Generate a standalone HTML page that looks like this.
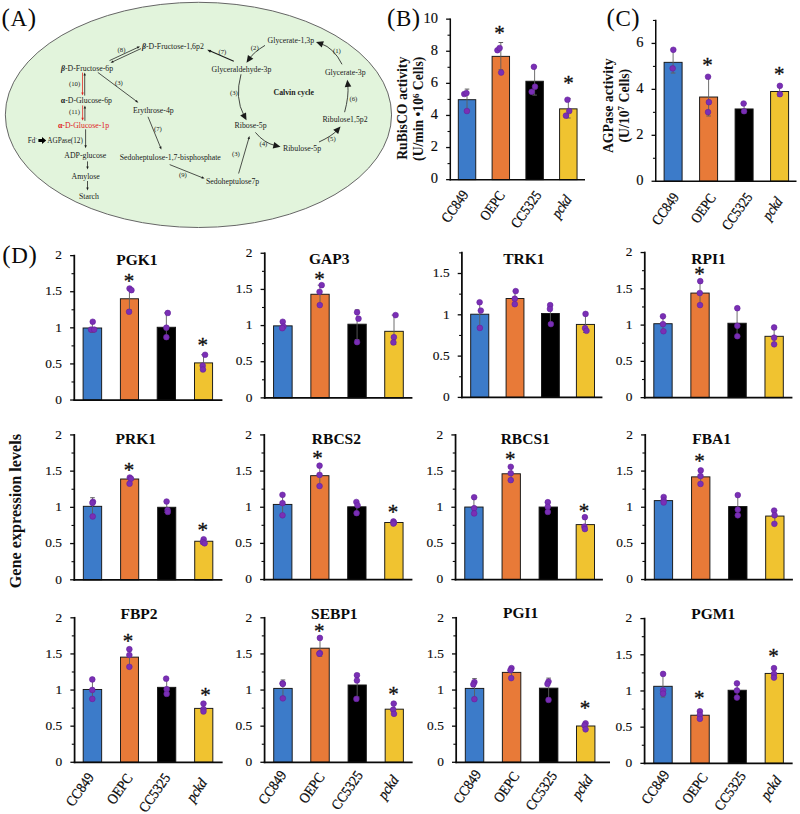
<!DOCTYPE html>
<html><head><meta charset="utf-8"><title>Figure</title>
<style>html,body{margin:0;padding:0;background:#fff;}svg{display:block;font-family:"Liberation Serif",serif;}</style>
</head><body>
<svg width="800" height="814" viewBox="0 0 800 814">
<rect x="0" y="0" width="800" height="814" fill="#ffffff"/>
<text x="1.6" y="26" fill="#0a0a0a"><tspan font-size="25">(</tspan><tspan font-size="23" dx="0.6">A</tspan><tspan font-size="25" dx="0.6">)</tspan></text>
<text x="387" y="25.5" fill="#0a0a0a"><tspan font-size="25">(</tspan><tspan font-size="23" dx="0.6">B</tspan><tspan font-size="25" dx="0.6">)</tspan></text>
<text x="606.5" y="25.5" fill="#0a0a0a"><tspan font-size="25">(</tspan><tspan font-size="23" dx="0.6">C</tspan><tspan font-size="25" dx="0.6">)</tspan></text>
<text x="2.3" y="263" fill="#0a0a0a"><tspan font-size="25">(</tspan><tspan font-size="23" dx="0.6">D</tspan><tspan font-size="25" dx="0.6">)</tspan></text>
<ellipse cx="198.45" cy="114.9" rx="193.1" ry="112.6" fill="#e2f4dc" stroke="#666" stroke-width="1"/>
<text x="61" y="70.6" font-size="7.8" text-anchor="start" fill="#1a1a1a" font-weight="normal"><tspan font-weight="bold" font-style="italic">β</tspan>-D-Fructose-6p</text>
<text x="142" y="48.5" font-size="7.8" text-anchor="start" fill="#1a1a1a" font-weight="normal"><tspan font-weight="bold" font-style="italic">β</tspan>-D-Fructose-1,6p2</text>
<text transform="translate(69 86.05) scale(0.9 0.95)" font-size="7.5" text-anchor="start" fill="#1a1a1a" font-weight="normal">(10)</text>
<text x="60.8" y="103" font-size="7.8" text-anchor="start" fill="#1a1a1a" font-weight="normal"><tspan font-weight="bold">α</tspan>-D-Glucose-6p</text>
<text transform="translate(69 114.25) scale(0.9 0.95)" font-size="7.5" text-anchor="start" fill="#1a1a1a" font-weight="normal">(11)</text>
<text x="58" y="127.5" font-size="7.8" text-anchor="start" fill="#e0201c" font-weight="normal"><tspan font-weight="bold">α</tspan>-D-Glucose-1p</text>
<text x="27.8" y="142.8" font-size="7.2" text-anchor="start" fill="#1a1a1a" font-weight="normal">Fd<tspan font-size="4.5" dy="-2.6">-</tspan></text>
<text x="47.3" y="142.8" font-size="7.2" text-anchor="start" fill="#1a1a1a" font-weight="normal">AGPase(12)</text>
<polygon points="38.4,138.9 42,138.9 42,137 46.2,140.5 42,144 42,142.1 38.4,142.1" fill="#000"/>
<text x="64.3" y="157.9" font-size="7.8" text-anchor="start" fill="#1a1a1a" font-weight="normal">ADP-glucose</text>
<text x="71.6" y="178.5" font-size="7.8" text-anchor="start" fill="#1a1a1a" font-weight="normal">Amylose</text>
<text x="79" y="199" font-size="7.8" text-anchor="start" fill="#1a1a1a" font-weight="normal">Starch</text>
<text transform="translate(117.6 52.25) scale(0.9 0.95)" font-size="7.5" text-anchor="start" fill="#1a1a1a" font-weight="normal">(8)</text>
<text transform="translate(115 84.65) scale(0.9 0.95)" font-size="7.5" text-anchor="start" fill="#1a1a1a" font-weight="normal">(3)</text>
<text x="133" y="112.5" font-size="7.8" text-anchor="start" fill="#1a1a1a" font-weight="normal">Erythrose-4p</text>
<text transform="translate(154 130.85) scale(0.9 0.95)" font-size="7.5" text-anchor="start" fill="#1a1a1a" font-weight="normal">(7)</text>
<text x="119.7" y="160" font-size="7.8" text-anchor="start" fill="#1a1a1a" font-weight="normal">Sedoheptulose-1,7-bisphosphate</text>
<text transform="translate(179 177.25) scale(0.9 0.95)" font-size="7.5" text-anchor="start" fill="#1a1a1a" font-weight="normal">(9)</text>
<line x1="82.5" y1="72.6" x2="82.5" y2="93.5" stroke="#e0201c" stroke-width="0.75"/>
<polygon points="82.5,95.6 81.3,92.6 83.7,92.6" fill="#e0201c"/>
<line x1="84.7" y1="95.6" x2="84.7" y2="74.7" stroke="#1a1a1a" stroke-width="0.75"/>
<polygon points="84.7,72.6 85.9,75.6 83.5,75.6" fill="#1a1a1a"/>
<line x1="82.6" y1="105.4" x2="82.6" y2="118.7" stroke="#e0201c" stroke-width="0.75"/>
<polygon points="82.6,120.8 81.4,117.8 83.8,117.8" fill="#e0201c"/>
<line x1="84.9" y1="120.8" x2="84.9" y2="107.5" stroke="#1a1a1a" stroke-width="0.75"/>
<polygon points="84.9,105.4 86.1,108.4 83.7,108.4" fill="#1a1a1a"/>
<line x1="85.6" y1="129.3" x2="85.6" y2="146.2" stroke="#1a1a1a" stroke-width="0.75"/>
<polygon points="85.6,148.3 84.4,145.3 86.8,145.3" fill="#1a1a1a"/>
<line x1="87.5" y1="161.4" x2="87.5" y2="167.5" stroke="#1a1a1a" stroke-width="0.75"/>
<polygon points="87.5,169.6 86.3,166.6 88.7,166.6" fill="#1a1a1a"/>
<line x1="87.5" y1="181" x2="87.5" y2="188.5" stroke="#1a1a1a" stroke-width="0.75"/>
<polygon points="87.5,190.6 86.3,187.6 88.7,187.6" fill="#1a1a1a"/>
<line x1="97.8" y1="72.4" x2="136.72" y2="101.44" stroke="#1a1a1a" stroke-width="0.75"/>
<polygon points="138.4,102.7 135.28,101.87 136.71,99.94" fill="#1a1a1a"/>
<line x1="148" y1="116.8" x2="160.6" y2="147.56" stroke="#1a1a1a" stroke-width="0.75"/>
<polygon points="161.4,149.5 159.15,147.18 161.37,146.27" fill="#1a1a1a"/>
<line x1="169.7" y1="164.6" x2="202.65" y2="177.82" stroke="#1a1a1a" stroke-width="0.75"/>
<polygon points="204.6,178.6 201.37,178.6 202.26,176.37" fill="#1a1a1a"/>
<line x1="109.5" y1="60.6" x2="138.1" y2="47.29" stroke="#1a1a1a" stroke-width="0.75"/>
<polygon points="140,46.4 137.79,48.75 136.77,46.58" fill="#1a1a1a"/>
<line x1="141" y1="48.6" x2="112.4" y2="61.91" stroke="#1a1a1a" stroke-width="0.75"/>
<polygon points="110.5,62.8 112.71,60.45 113.73,62.62" fill="#1a1a1a"/>
<text x="267.6" y="42.5" font-size="7.8" text-anchor="start" fill="#1a1a1a" font-weight="normal">Glycerate-1,3p</text>
<text transform="translate(250.8 50.25) scale(0.9 0.95)" font-size="7.5" text-anchor="start" fill="#1a1a1a" font-weight="normal">(2)</text>
<text transform="translate(218.4 53.65) scale(0.9 0.95)" font-size="7.5" text-anchor="start" fill="#1a1a1a" font-weight="normal">(7)</text>
<text x="211.6" y="71.5" font-size="7.8" text-anchor="start" fill="#1a1a1a" font-weight="normal">Glyceraldehyde-3p</text>
<text transform="translate(230 94.95) scale(0.9 0.95)" font-size="7.5" text-anchor="start" fill="#1a1a1a" font-weight="normal">(3)</text>
<text x="273.5" y="95.2" font-size="7.8" text-anchor="start" fill="#1a1a1a" font-weight="bold">Calvin cycle</text>
<text x="234.6" y="128.2" font-size="7.8" text-anchor="start" fill="#1a1a1a" font-weight="normal">Ribose-5p</text>
<text transform="translate(259.5 146.25) scale(0.9 0.95)" font-size="7.5" text-anchor="start" fill="#1a1a1a" font-weight="normal">(4)</text>
<text x="283" y="151.1" font-size="7.8" text-anchor="start" fill="#1a1a1a" font-weight="normal">Ribulose-5p</text>
<text transform="translate(327.8 141.25) scale(0.9 0.95)" font-size="7.5" text-anchor="start" fill="#1a1a1a" font-weight="normal">(5)</text>
<text x="322.4" y="121.5" font-size="7.8" text-anchor="start" fill="#1a1a1a" font-weight="normal">Ribulose1,5p2</text>
<text transform="translate(349.5 100.85) scale(0.9 0.95)" font-size="7.5" text-anchor="start" fill="#1a1a1a" font-weight="normal">(6)</text>
<text x="324.9" y="74.9" font-size="7.8" text-anchor="start" fill="#1a1a1a" font-weight="normal">Glycerate-3p</text>
<text transform="translate(333 53.05) scale(0.9 0.95)" font-size="7.5" text-anchor="start" fill="#1a1a1a" font-weight="normal">(1)</text>
<text transform="translate(232 155.75) scale(0.9 0.95)" font-size="7.5" text-anchor="start" fill="#1a1a1a" font-weight="normal">(3)</text>
<text x="206" y="184.1" font-size="7.8" text-anchor="start" fill="#1a1a1a" font-weight="normal">Sedoheptulose7p</text>
<path d="M342 64.3 Q334 48 320.78 43.59" fill="none" stroke="#1a1a1a" stroke-width="0.8"/>
<polygon points="316,42 323.88,41.13 321.78,47.42" fill="#1a1a1a"/>
<path d="M265 45.4 Q254 52 249.39 58.57" fill="none" stroke="#1a1a1a" stroke-width="0.8"/>
<polygon points="246.5,62.7 247.92,54.9 253.34,58.71" fill="#1a1a1a"/>
<line x1="233.8" y1="61.2" x2="209.64" y2="50.85" stroke="#1a1a1a" stroke-width="1.1"/>
<polygon points="207.2,49.8 211.29,49.9 210.09,52.69" fill="#1a1a1a"/>
<path d="M241 74.3 Q234.5 98 244.11 115.86" fill="none" stroke="#1a1a1a" stroke-width="0.8"/>
<polygon points="246.5,120.3 240.17,115.53 246,112.39" fill="#1a1a1a"/>
<path d="M255.4 132.4 Q264 143 275.59 145.67" fill="none" stroke="#1a1a1a" stroke-width="0.8"/>
<polygon points="280.5,146.8 272.74,148.41 274.23,141.96" fill="#1a1a1a"/>
<path d="M319 142 Q332 136 337.14 130.26" fill="none" stroke="#1a1a1a" stroke-width="0.8"/>
<polygon points="340.5,126.5 338.17,134.07 333.23,129.66" fill="#1a1a1a"/>
<path d="M344.6 112.2 Q349 96 347.82 84.71" fill="none" stroke="#1a1a1a" stroke-width="0.8"/>
<polygon points="347.3,79.7 351.34,86.52 344.75,87.2" fill="#1a1a1a"/>
<line x1="238.6" y1="173.5" x2="248.91" y2="138.02" stroke="#1a1a1a" stroke-width="0.75"/>
<polygon points="249.5,136 249.81,139.22 247.51,138.55" fill="#1a1a1a"/>
<rect x="458.3" y="99.7" width="17.45" height="79.95" fill="#3c7bc9" stroke="#151515" stroke-width="0.95"/>
<rect x="492.1" y="56.36" width="17.45" height="123.29" fill="#e87a38" stroke="#151515" stroke-width="0.95"/>
<rect x="525.9" y="81.24" width="17.45" height="98.41" fill="#000000" stroke="#151515" stroke-width="0.95"/>
<rect x="559.6" y="108.85" width="17.45" height="70.8" fill="#f0c330" stroke="#151515" stroke-width="0.95"/>
<line x1="467.02" y1="89.1" x2="467.02" y2="110.6" stroke="#5e5e5e" stroke-width="0.9"/>
<line x1="464.72" y1="89.1" x2="469.32" y2="89.1" stroke="#5e5e5e" stroke-width="1"/>
<line x1="464.72" y1="110.6" x2="469.32" y2="110.6" stroke="#5e5e5e" stroke-width="1"/>
<line x1="500.82" y1="42.5" x2="500.82" y2="69.7" stroke="#5e5e5e" stroke-width="0.9"/>
<line x1="498.52" y1="42.5" x2="503.12" y2="42.5" stroke="#5e5e5e" stroke-width="1"/>
<line x1="498.52" y1="69.7" x2="503.12" y2="69.7" stroke="#5e5e5e" stroke-width="1"/>
<line x1="534.62" y1="66.8" x2="534.62" y2="95.1" stroke="#5e5e5e" stroke-width="0.9"/>
<line x1="532.33" y1="66.8" x2="536.92" y2="66.8" stroke="#5e5e5e" stroke-width="1"/>
<line x1="532.33" y1="95.1" x2="536.92" y2="95.1" stroke="#5e5e5e" stroke-width="1"/>
<line x1="568.33" y1="98.4" x2="568.33" y2="118" stroke="#5e5e5e" stroke-width="0.9"/>
<line x1="566.03" y1="98.4" x2="570.62" y2="98.4" stroke="#5e5e5e" stroke-width="1"/>
<line x1="566.03" y1="118" x2="570.62" y2="118" stroke="#5e5e5e" stroke-width="1"/>
<circle cx="464.26" cy="94" r="2.85" fill="#7a2fb5" stroke="#64229c" stroke-width="0.6"/>
<circle cx="466.47" cy="93.11" r="2.85" fill="#7a2fb5" stroke="#64229c" stroke-width="0.6"/>
<circle cx="466.91" cy="111.02" r="2.85" fill="#7a2fb5" stroke="#64229c" stroke-width="0.6"/>
<circle cx="497.42" cy="50.23" r="2.85" fill="#7a2fb5" stroke="#64229c" stroke-width="0.6"/>
<circle cx="499.63" cy="48.02" r="2.85" fill="#7a2fb5" stroke="#64229c" stroke-width="0.6"/>
<circle cx="501.18" cy="72.56" r="2.85" fill="#7a2fb5" stroke="#64229c" stroke-width="0.6"/>
<circle cx="533.89" cy="66.81" r="2.85" fill="#7a2fb5" stroke="#64229c" stroke-width="0.6"/>
<circle cx="535" cy="86.7" r="2.85" fill="#7a2fb5" stroke="#64229c" stroke-width="0.6"/>
<circle cx="531.68" cy="91.79" r="2.85" fill="#7a2fb5" stroke="#64229c" stroke-width="0.6"/>
<circle cx="567.49" cy="99.74" r="2.85" fill="#7a2fb5" stroke="#64229c" stroke-width="0.6"/>
<circle cx="569.26" cy="111.02" r="2.85" fill="#7a2fb5" stroke="#64229c" stroke-width="0.6"/>
<circle cx="565.94" cy="115.66" r="2.85" fill="#7a2fb5" stroke="#64229c" stroke-width="0.6"/>
<line x1="450.3" y1="18.45" x2="450.3" y2="180.4" stroke="#0a0a0a" stroke-width="1.5"/>
<line x1="449.55" y1="179.65" x2="585" y2="179.65" stroke="#0a0a0a" stroke-width="1.5"/>
<line x1="446.1" y1="179.65" x2="450.3" y2="179.65" stroke="#0a0a0a" stroke-width="1.3"/>
<line x1="447.5" y1="163.6" x2="450.3" y2="163.6" stroke="#0a0a0a" stroke-width="1.1"/>
<line x1="446.1" y1="147.55" x2="450.3" y2="147.55" stroke="#0a0a0a" stroke-width="1.3"/>
<line x1="447.5" y1="131.5" x2="450.3" y2="131.5" stroke="#0a0a0a" stroke-width="1.1"/>
<line x1="446.1" y1="115.45" x2="450.3" y2="115.45" stroke="#0a0a0a" stroke-width="1.3"/>
<line x1="447.5" y1="99.4" x2="450.3" y2="99.4" stroke="#0a0a0a" stroke-width="1.1"/>
<line x1="446.1" y1="83.35" x2="450.3" y2="83.35" stroke="#0a0a0a" stroke-width="1.3"/>
<line x1="447.5" y1="67.3" x2="450.3" y2="67.3" stroke="#0a0a0a" stroke-width="1.1"/>
<line x1="446.1" y1="51.25" x2="450.3" y2="51.25" stroke="#0a0a0a" stroke-width="1.3"/>
<line x1="447.5" y1="35.2" x2="450.3" y2="35.2" stroke="#0a0a0a" stroke-width="1.1"/>
<line x1="446.1" y1="19.15" x2="450.3" y2="19.15" stroke="#0a0a0a" stroke-width="1.3"/>
<text x="438.1" y="183.2" font-size="14.5" text-anchor="end" font-weight="normal" font-style="normal" fill="#0a0a0a" stroke="#0a0a0a" stroke-width="0.15">0</text>
<text x="438.1" y="151.1" font-size="14.5" text-anchor="end" font-weight="normal" font-style="normal" fill="#0a0a0a" stroke="#0a0a0a" stroke-width="0.15">2</text>
<text x="438.1" y="119" font-size="14.5" text-anchor="end" font-weight="normal" font-style="normal" fill="#0a0a0a" stroke="#0a0a0a" stroke-width="0.15">4</text>
<text x="438.1" y="86.9" font-size="14.5" text-anchor="end" font-weight="normal" font-style="normal" fill="#0a0a0a" stroke="#0a0a0a" stroke-width="0.15">6</text>
<text x="438.1" y="54.8" font-size="14.5" text-anchor="end" font-weight="normal" font-style="normal" fill="#0a0a0a" stroke="#0a0a0a" stroke-width="0.15">8</text>
<text x="438.1" y="22.7" font-size="14.5" text-anchor="end" font-weight="normal" font-style="normal" fill="#0a0a0a" stroke="#0a0a0a" stroke-width="0.15">10</text>
<text x="499.4" y="39.64" font-size="21" text-anchor="middle" font-weight="normal" font-style="normal" fill="#0a0a0a" stroke="#0a0a0a" stroke-width="0.3">*</text>
<text x="568.6" y="89.94" font-size="21" text-anchor="middle" font-weight="normal" font-style="normal" fill="#0a0a0a" stroke="#0a0a0a" stroke-width="0.3">*</text>
<text transform="translate(469.02 194.5) rotate(-55) scale(0.86 1)" font-size="14.6" text-anchor="end" font-style="normal" fill="#0a0a0a" stroke="#0a0a0a" stroke-width="0.25">CC849</text>
<text transform="translate(505.52 195.45) rotate(-55) scale(0.86 1)" font-size="14.6" text-anchor="end" font-style="normal" fill="#0a0a0a" stroke="#0a0a0a" stroke-width="0.25">OEPC</text>
<text transform="translate(542.02 195) rotate(-55) scale(0.86 1)" font-size="14.6" text-anchor="end" font-style="normal" fill="#0a0a0a" stroke="#0a0a0a" stroke-width="0.25">CC5325</text>
<text transform="translate(572.23 199.5) rotate(-55) scale(0.86 1)" font-size="14.6" text-anchor="end" font-style="italic" fill="#0a0a0a" stroke="#0a0a0a" stroke-width="0.25">pckd</text>
<text transform="translate(407.2 108.3) rotate(-90)" font-size="13.7" font-weight="bold" text-anchor="middle" fill="#111">RuBisCO activity</text>
<text transform="translate(423.2 108.8) rotate(-90)" font-size="13.7" font-weight="bold" text-anchor="middle" fill="#111">(U/min •10<tspan font-size="8.8" dy="-4.6">6</tspan><tspan dy="4.6"> Cells)</tspan></text>
<rect x="664.1" y="62.34" width="18" height="118.91" fill="#3c7bc9" stroke="#151515" stroke-width="0.95"/>
<rect x="699.6" y="97.02" width="18" height="84.23" fill="#e87a38" stroke="#151515" stroke-width="0.95"/>
<rect x="735.1" y="108.96" width="18" height="72.29" fill="#000000" stroke="#151515" stroke-width="0.95"/>
<rect x="770.6" y="91.51" width="18" height="89.74" fill="#f0c330" stroke="#151515" stroke-width="0.95"/>
<line x1="673.1" y1="49.8" x2="673.1" y2="73" stroke="#5e5e5e" stroke-width="0.9"/>
<line x1="670.8" y1="49.8" x2="675.4" y2="49.8" stroke="#5e5e5e" stroke-width="1"/>
<line x1="670.8" y1="73" x2="675.4" y2="73" stroke="#5e5e5e" stroke-width="1"/>
<line x1="708.6" y1="76.8" x2="708.6" y2="116" stroke="#5e5e5e" stroke-width="0.9"/>
<line x1="706.3" y1="76.8" x2="710.9" y2="76.8" stroke="#5e5e5e" stroke-width="1"/>
<line x1="706.3" y1="116" x2="710.9" y2="116" stroke="#5e5e5e" stroke-width="1"/>
<line x1="744.1" y1="103.5" x2="744.1" y2="113" stroke="#5e5e5e" stroke-width="0.9"/>
<line x1="741.8" y1="103.5" x2="746.4" y2="103.5" stroke="#5e5e5e" stroke-width="1"/>
<line x1="741.8" y1="113" x2="746.4" y2="113" stroke="#5e5e5e" stroke-width="1"/>
<line x1="779.6" y1="86" x2="779.6" y2="96" stroke="#5e5e5e" stroke-width="0.9"/>
<line x1="777.3" y1="86" x2="781.9" y2="86" stroke="#5e5e5e" stroke-width="1"/>
<line x1="777.3" y1="96" x2="781.9" y2="96" stroke="#5e5e5e" stroke-width="1"/>
<circle cx="673.32" cy="49.79" r="2.85" fill="#7a2fb5" stroke="#64229c" stroke-width="0.6"/>
<circle cx="672.66" cy="68.36" r="2.85" fill="#7a2fb5" stroke="#64229c" stroke-width="0.6"/>
<circle cx="708.03" cy="76.76" r="2.85" fill="#7a2fb5" stroke="#64229c" stroke-width="0.6"/>
<circle cx="708.91" cy="102.18" r="2.85" fill="#7a2fb5" stroke="#64229c" stroke-width="0.6"/>
<circle cx="708.03" cy="112.12" r="2.85" fill="#7a2fb5" stroke="#64229c" stroke-width="0.6"/>
<circle cx="743.62" cy="103.5" r="2.85" fill="#7a2fb5" stroke="#64229c" stroke-width="0.6"/>
<circle cx="744.06" cy="111.24" r="2.85" fill="#7a2fb5" stroke="#64229c" stroke-width="0.6"/>
<circle cx="779.87" cy="85.82" r="2.85" fill="#7a2fb5" stroke="#64229c" stroke-width="0.6"/>
<circle cx="779.87" cy="94.22" r="2.85" fill="#7a2fb5" stroke="#64229c" stroke-width="0.6"/>
<line x1="655.75" y1="19.85" x2="655.75" y2="182" stroke="#0a0a0a" stroke-width="1.5"/>
<line x1="655" y1="181.25" x2="796.5" y2="181.25" stroke="#0a0a0a" stroke-width="1.5"/>
<line x1="651.55" y1="181.25" x2="655.75" y2="181.25" stroke="#0a0a0a" stroke-width="1.3"/>
<line x1="652.95" y1="158.28" x2="655.75" y2="158.28" stroke="#0a0a0a" stroke-width="1.1"/>
<line x1="651.55" y1="135.31" x2="655.75" y2="135.31" stroke="#0a0a0a" stroke-width="1.3"/>
<line x1="652.95" y1="112.34" x2="655.75" y2="112.34" stroke="#0a0a0a" stroke-width="1.1"/>
<line x1="651.55" y1="89.37" x2="655.75" y2="89.37" stroke="#0a0a0a" stroke-width="1.3"/>
<line x1="652.95" y1="66.4" x2="655.75" y2="66.4" stroke="#0a0a0a" stroke-width="1.1"/>
<line x1="651.55" y1="43.43" x2="655.75" y2="43.43" stroke="#0a0a0a" stroke-width="1.3"/>
<line x1="652.95" y1="20.46" x2="655.75" y2="20.46" stroke="#0a0a0a" stroke-width="1.1"/>
<text x="643.55" y="184.8" font-size="14.5" text-anchor="end" font-weight="normal" font-style="normal" fill="#0a0a0a" stroke="#0a0a0a" stroke-width="0.15">0</text>
<text x="643.55" y="138.86" font-size="14.5" text-anchor="end" font-weight="normal" font-style="normal" fill="#0a0a0a" stroke="#0a0a0a" stroke-width="0.15">2</text>
<text x="643.55" y="92.92" font-size="14.5" text-anchor="end" font-weight="normal" font-style="normal" fill="#0a0a0a" stroke="#0a0a0a" stroke-width="0.15">4</text>
<text x="643.55" y="46.98" font-size="14.5" text-anchor="end" font-weight="normal" font-style="normal" fill="#0a0a0a" stroke="#0a0a0a" stroke-width="0.15">6</text>
<text x="707.4" y="72.24" font-size="21" text-anchor="middle" font-weight="normal" font-style="normal" fill="#0a0a0a" stroke="#0a0a0a" stroke-width="0.3">*</text>
<text x="779.2" y="81.14" font-size="21" text-anchor="middle" font-weight="normal" font-style="normal" fill="#0a0a0a" stroke="#0a0a0a" stroke-width="0.3">*</text>
<text transform="translate(679.5 197) rotate(-55) scale(0.86 1)" font-size="14.6" text-anchor="end" font-style="normal" fill="#0a0a0a" stroke="#0a0a0a" stroke-width="0.25">CC849</text>
<text transform="translate(716.5 198) rotate(-55) scale(0.86 1)" font-size="14.6" text-anchor="end" font-style="normal" fill="#0a0a0a" stroke="#0a0a0a" stroke-width="0.25">OEPC</text>
<text transform="translate(753 197) rotate(-55) scale(0.86 1)" font-size="14.6" text-anchor="end" font-style="normal" fill="#0a0a0a" stroke="#0a0a0a" stroke-width="0.25">CC5325</text>
<text transform="translate(783.2 201.5) rotate(-55) scale(0.86 1)" font-size="14.6" text-anchor="end" font-style="italic" fill="#0a0a0a" stroke="#0a0a0a" stroke-width="0.25">pckd</text>
<text transform="translate(613 105.8) rotate(-90)" font-size="13.8" font-weight="bold" text-anchor="middle" fill="#111">AGPase activity</text>
<text transform="translate(629 105.7) rotate(-90)" font-size="13.8" font-weight="bold" text-anchor="middle" fill="#111">(U/10<tspan font-size="8.8" dy="-4.6">7</tspan><tspan dy="4.6"> Cells)</tspan></text>
<text transform="translate(21.1 511.1) rotate(-90)" font-size="16.2" font-weight="bold" text-anchor="middle" fill="#111">Gene expression levels</text>
<rect x="83.09" y="327.99" width="18.56" height="72.03" fill="#3c7bc9" stroke="#151515" stroke-width="0.95"/>
<rect x="120.39" y="298.77" width="18.09" height="101.25" fill="#e87a38" stroke="#151515" stroke-width="0.95"/>
<rect x="157.2" y="327.27" width="18.33" height="72.75" fill="#000000" stroke="#151515" stroke-width="0.95"/>
<rect x="194.49" y="362.9" width="18.09" height="37.12" fill="#f0c330" stroke="#151515" stroke-width="0.95"/>
<line x1="92.38" y1="321.75" x2="92.38" y2="332.44" stroke="#5e5e5e" stroke-width="0.9"/>
<line x1="90.08" y1="321.75" x2="94.68" y2="321.75" stroke="#5e5e5e" stroke-width="1"/>
<line x1="90.08" y1="332.44" x2="94.68" y2="332.44" stroke="#5e5e5e" stroke-width="1"/>
<line x1="129.43" y1="287.31" x2="129.43" y2="309.87" stroke="#5e5e5e" stroke-width="0.9"/>
<line x1="127.13" y1="287.31" x2="131.73" y2="287.31" stroke="#5e5e5e" stroke-width="1"/>
<line x1="127.13" y1="309.87" x2="131.73" y2="309.87" stroke="#5e5e5e" stroke-width="1"/>
<line x1="166.37" y1="312.96" x2="166.37" y2="338.37" stroke="#5e5e5e" stroke-width="0.9"/>
<line x1="164.07" y1="312.96" x2="168.67" y2="312.96" stroke="#5e5e5e" stroke-width="1"/>
<line x1="164.07" y1="338.37" x2="168.67" y2="338.37" stroke="#5e5e5e" stroke-width="1"/>
<line x1="203.54" y1="354.76" x2="203.54" y2="369.97" stroke="#5e5e5e" stroke-width="0.9"/>
<line x1="201.24" y1="354.76" x2="205.84" y2="354.76" stroke="#5e5e5e" stroke-width="1"/>
<line x1="201.24" y1="369.97" x2="205.84" y2="369.97" stroke="#5e5e5e" stroke-width="1"/>
<circle cx="92.73" cy="321.75" r="2.85" fill="#7a2fb5" stroke="#64229c" stroke-width="0.6"/>
<circle cx="91.07" cy="329.59" r="2.85" fill="#7a2fb5" stroke="#64229c" stroke-width="0.6"/>
<circle cx="94.16" cy="329.59" r="2.85" fill="#7a2fb5" stroke="#64229c" stroke-width="0.6"/>
<circle cx="129.55" cy="288.49" r="2.85" fill="#7a2fb5" stroke="#64229c" stroke-width="0.6"/>
<circle cx="131.45" cy="290.16" r="2.85" fill="#7a2fb5" stroke="#64229c" stroke-width="0.6"/>
<circle cx="129.07" cy="311.77" r="2.85" fill="#7a2fb5" stroke="#64229c" stroke-width="0.6"/>
<circle cx="167.79" cy="312.96" r="2.85" fill="#7a2fb5" stroke="#64229c" stroke-width="0.6"/>
<circle cx="166.37" cy="327.69" r="2.85" fill="#7a2fb5" stroke="#64229c" stroke-width="0.6"/>
<circle cx="166.37" cy="337.19" r="2.85" fill="#7a2fb5" stroke="#64229c" stroke-width="0.6"/>
<circle cx="205.08" cy="354.76" r="2.85" fill="#7a2fb5" stroke="#64229c" stroke-width="0.6"/>
<circle cx="202.71" cy="365.69" r="2.85" fill="#7a2fb5" stroke="#64229c" stroke-width="0.6"/>
<circle cx="202.95" cy="369.49" r="2.85" fill="#7a2fb5" stroke="#64229c" stroke-width="0.6"/>
<line x1="74.3" y1="254.76" x2="74.3" y2="400.89" stroke="#0a0a0a" stroke-width="1.75"/>
<line x1="73.43" y1="400.02" x2="222.42" y2="400.02" stroke="#0a0a0a" stroke-width="1.75"/>
<line x1="70.1" y1="400.02" x2="74.3" y2="400.02" stroke="#0a0a0a" stroke-width="1.3"/>
<line x1="71.5" y1="381.97" x2="74.3" y2="381.97" stroke="#0a0a0a" stroke-width="1.1"/>
<line x1="70.1" y1="363.92" x2="74.3" y2="363.92" stroke="#0a0a0a" stroke-width="1.3"/>
<line x1="71.5" y1="345.88" x2="74.3" y2="345.88" stroke="#0a0a0a" stroke-width="1.1"/>
<line x1="70.1" y1="327.83" x2="74.3" y2="327.83" stroke="#0a0a0a" stroke-width="1.3"/>
<line x1="71.5" y1="309.78" x2="74.3" y2="309.78" stroke="#0a0a0a" stroke-width="1.1"/>
<line x1="70.1" y1="291.73" x2="74.3" y2="291.73" stroke="#0a0a0a" stroke-width="1.3"/>
<line x1="71.5" y1="273.69" x2="74.3" y2="273.69" stroke="#0a0a0a" stroke-width="1.1"/>
<line x1="70.1" y1="255.64" x2="74.3" y2="255.64" stroke="#0a0a0a" stroke-width="1.3"/>
<text x="62" y="403.77" font-size="13.4" text-anchor="end" font-weight="normal" font-style="normal" fill="#0a0a0a" stroke="#0a0a0a" stroke-width="0.15">0</text>
<text x="62" y="367.68" font-size="13.4" text-anchor="end" font-weight="normal" font-style="normal" fill="#0a0a0a" stroke="#0a0a0a" stroke-width="0.15">0.5</text>
<text x="62" y="331.58" font-size="13.4" text-anchor="end" font-weight="normal" font-style="normal" fill="#0a0a0a" stroke="#0a0a0a" stroke-width="0.15">1</text>
<text x="62" y="295.49" font-size="13.4" text-anchor="end" font-weight="normal" font-style="normal" fill="#0a0a0a" stroke="#0a0a0a" stroke-width="0.15">1.5</text>
<text x="62" y="259.39" font-size="13.4" text-anchor="end" font-weight="normal" font-style="normal" fill="#0a0a0a" stroke="#0a0a0a" stroke-width="0.15">2</text>
<text x="136.91" y="265.19" font-size="15.5" text-anchor="middle" font-weight="bold" font-style="normal" fill="#0a0a0a">PGK1</text>
<text x="129.07" y="288.23" font-size="21" text-anchor="middle" font-weight="normal" font-style="normal" fill="#0a0a0a" stroke="#0a0a0a" stroke-width="0.3">*</text>
<text x="202.71" y="351.65" font-size="21" text-anchor="middle" font-weight="normal" font-style="normal" fill="#0a0a0a" stroke="#0a0a0a" stroke-width="0.3">*</text>
<rect x="273.57" y="325.85" width="18.56" height="72.03" fill="#3c7bc9" stroke="#151515" stroke-width="0.95"/>
<rect x="310.86" y="294.26" width="18.33" height="103.63" fill="#e87a38" stroke="#151515" stroke-width="0.95"/>
<rect x="347.91" y="324.19" width="18.33" height="73.7" fill="#000000" stroke="#151515" stroke-width="0.95"/>
<rect x="384.73" y="331.31" width="18.56" height="66.57" fill="#f0c330" stroke="#151515" stroke-width="0.95"/>
<line x1="282.85" y1="321.75" x2="282.85" y2="328.87" stroke="#5e5e5e" stroke-width="0.9"/>
<line x1="280.55" y1="321.75" x2="285.15" y2="321.75" stroke="#5e5e5e" stroke-width="1"/>
<line x1="280.55" y1="328.87" x2="285.15" y2="328.87" stroke="#5e5e5e" stroke-width="1"/>
<line x1="320.02" y1="285.17" x2="320.02" y2="303.93" stroke="#5e5e5e" stroke-width="0.9"/>
<line x1="317.72" y1="285.17" x2="322.32" y2="285.17" stroke="#5e5e5e" stroke-width="1"/>
<line x1="317.72" y1="303.93" x2="322.32" y2="303.93" stroke="#5e5e5e" stroke-width="1"/>
<line x1="357.08" y1="309.87" x2="357.08" y2="339.56" stroke="#5e5e5e" stroke-width="0.9"/>
<line x1="354.78" y1="309.87" x2="359.38" y2="309.87" stroke="#5e5e5e" stroke-width="1"/>
<line x1="354.78" y1="339.56" x2="359.38" y2="339.56" stroke="#5e5e5e" stroke-width="1"/>
<line x1="394.01" y1="315.1" x2="394.01" y2="344.31" stroke="#5e5e5e" stroke-width="0.9"/>
<line x1="391.71" y1="315.1" x2="396.31" y2="315.1" stroke="#5e5e5e" stroke-width="1"/>
<line x1="391.71" y1="344.31" x2="396.31" y2="344.31" stroke="#5e5e5e" stroke-width="1"/>
<circle cx="282.73" cy="321.75" r="2.85" fill="#7a2fb5" stroke="#64229c" stroke-width="0.6"/>
<circle cx="283.44" cy="326.5" r="2.85" fill="#7a2fb5" stroke="#64229c" stroke-width="0.6"/>
<circle cx="282.26" cy="328.16" r="2.85" fill="#7a2fb5" stroke="#64229c" stroke-width="0.6"/>
<circle cx="321.69" cy="285.17" r="2.85" fill="#7a2fb5" stroke="#64229c" stroke-width="0.6"/>
<circle cx="319.55" cy="291.82" r="2.85" fill="#7a2fb5" stroke="#64229c" stroke-width="0.6"/>
<circle cx="319.79" cy="305.12" r="2.85" fill="#7a2fb5" stroke="#64229c" stroke-width="0.6"/>
<circle cx="357.08" cy="312.25" r="2.85" fill="#7a2fb5" stroke="#64229c" stroke-width="0.6"/>
<circle cx="358.5" cy="318.66" r="2.85" fill="#7a2fb5" stroke="#64229c" stroke-width="0.6"/>
<circle cx="357.08" cy="342.18" r="2.85" fill="#7a2fb5" stroke="#64229c" stroke-width="0.6"/>
<circle cx="395.56" cy="315.1" r="2.85" fill="#7a2fb5" stroke="#64229c" stroke-width="0.6"/>
<circle cx="393.9" cy="337.19" r="2.85" fill="#7a2fb5" stroke="#64229c" stroke-width="0.6"/>
<circle cx="393.42" cy="342.41" r="2.85" fill="#7a2fb5" stroke="#64229c" stroke-width="0.6"/>
<line x1="264.78" y1="252.39" x2="264.78" y2="398.76" stroke="#0a0a0a" stroke-width="1.75"/>
<line x1="263.9" y1="397.88" x2="412.42" y2="397.88" stroke="#0a0a0a" stroke-width="1.75"/>
<line x1="260.58" y1="397.88" x2="264.78" y2="397.88" stroke="#0a0a0a" stroke-width="1.3"/>
<line x1="261.98" y1="379.8" x2="264.78" y2="379.8" stroke="#0a0a0a" stroke-width="1.1"/>
<line x1="260.58" y1="361.73" x2="264.78" y2="361.73" stroke="#0a0a0a" stroke-width="1.3"/>
<line x1="261.98" y1="343.65" x2="264.78" y2="343.65" stroke="#0a0a0a" stroke-width="1.1"/>
<line x1="260.58" y1="325.57" x2="264.78" y2="325.57" stroke="#0a0a0a" stroke-width="1.3"/>
<line x1="261.98" y1="307.5" x2="264.78" y2="307.5" stroke="#0a0a0a" stroke-width="1.1"/>
<line x1="260.58" y1="289.42" x2="264.78" y2="289.42" stroke="#0a0a0a" stroke-width="1.3"/>
<line x1="261.98" y1="271.34" x2="264.78" y2="271.34" stroke="#0a0a0a" stroke-width="1.1"/>
<line x1="260.58" y1="253.26" x2="264.78" y2="253.26" stroke="#0a0a0a" stroke-width="1.3"/>
<text x="252.48" y="401.63" font-size="13.4" text-anchor="end" font-weight="normal" font-style="normal" fill="#0a0a0a" stroke="#0a0a0a" stroke-width="0.15">0</text>
<text x="252.48" y="365.48" font-size="13.4" text-anchor="end" font-weight="normal" font-style="normal" fill="#0a0a0a" stroke="#0a0a0a" stroke-width="0.15">0.5</text>
<text x="252.48" y="329.33" font-size="13.4" text-anchor="end" font-weight="normal" font-style="normal" fill="#0a0a0a" stroke="#0a0a0a" stroke-width="0.15">1</text>
<text x="252.48" y="293.17" font-size="13.4" text-anchor="end" font-weight="normal" font-style="normal" fill="#0a0a0a" stroke="#0a0a0a" stroke-width="0.15">1.5</text>
<text x="252.48" y="257.02" font-size="13.4" text-anchor="end" font-weight="normal" font-style="normal" fill="#0a0a0a" stroke="#0a0a0a" stroke-width="0.15">2</text>
<text x="329.29" y="264" font-size="15.5" text-anchor="middle" font-weight="bold" font-style="normal" fill="#0a0a0a">GAP3</text>
<text x="319.55" y="285.86" font-size="21" text-anchor="middle" font-weight="normal" font-style="normal" fill="#0a0a0a" stroke="#0a0a0a" stroke-width="0.3">*</text>
<rect x="470.69" y="314.21" width="18.09" height="83.2" fill="#3c7bc9" stroke="#151515" stroke-width="0.95"/>
<rect x="506.09" y="298.53" width="17.85" height="98.87" fill="#e87a38" stroke="#151515" stroke-width="0.95"/>
<rect x="541.48" y="313.5" width="17.85" height="83.91" fill="#000000" stroke="#151515" stroke-width="0.95"/>
<rect x="576.39" y="324.42" width="18.09" height="72.98" fill="#f0c330" stroke="#151515" stroke-width="0.95"/>
<line x1="479.74" y1="302.27" x2="479.74" y2="327.69" stroke="#5e5e5e" stroke-width="0.9"/>
<line x1="477.44" y1="302.27" x2="482.04" y2="302.27" stroke="#5e5e5e" stroke-width="1"/>
<line x1="477.44" y1="327.69" x2="482.04" y2="327.69" stroke="#5e5e5e" stroke-width="1"/>
<line x1="515.01" y1="291.11" x2="515.01" y2="305.12" stroke="#5e5e5e" stroke-width="0.9"/>
<line x1="512.71" y1="291.11" x2="517.31" y2="291.11" stroke="#5e5e5e" stroke-width="1"/>
<line x1="512.71" y1="305.12" x2="517.31" y2="305.12" stroke="#5e5e5e" stroke-width="1"/>
<line x1="550.4" y1="305.12" x2="550.4" y2="322.94" stroke="#5e5e5e" stroke-width="0.9"/>
<line x1="548.1" y1="305.12" x2="552.7" y2="305.12" stroke="#5e5e5e" stroke-width="1"/>
<line x1="548.1" y1="322.94" x2="552.7" y2="322.94" stroke="#5e5e5e" stroke-width="1"/>
<line x1="585.44" y1="313.91" x2="585.44" y2="332.44" stroke="#5e5e5e" stroke-width="0.9"/>
<line x1="583.14" y1="313.91" x2="587.74" y2="313.91" stroke="#5e5e5e" stroke-width="1"/>
<line x1="583.14" y1="332.44" x2="587.74" y2="332.44" stroke="#5e5e5e" stroke-width="1"/>
<circle cx="479.62" cy="302.27" r="2.85" fill="#7a2fb5" stroke="#64229c" stroke-width="0.6"/>
<circle cx="480.81" cy="310.58" r="2.85" fill="#7a2fb5" stroke="#64229c" stroke-width="0.6"/>
<circle cx="479.86" cy="327.92" r="2.85" fill="#7a2fb5" stroke="#64229c" stroke-width="0.6"/>
<circle cx="515.72" cy="291.11" r="2.85" fill="#7a2fb5" stroke="#64229c" stroke-width="0.6"/>
<circle cx="514.77" cy="298.71" r="2.85" fill="#7a2fb5" stroke="#64229c" stroke-width="0.6"/>
<circle cx="514.77" cy="304.17" r="2.85" fill="#7a2fb5" stroke="#64229c" stroke-width="0.6"/>
<circle cx="550.17" cy="305.12" r="2.85" fill="#7a2fb5" stroke="#64229c" stroke-width="0.6"/>
<circle cx="549.93" cy="308.92" r="2.85" fill="#7a2fb5" stroke="#64229c" stroke-width="0.6"/>
<circle cx="550.88" cy="324.12" r="2.85" fill="#7a2fb5" stroke="#64229c" stroke-width="0.6"/>
<circle cx="585.56" cy="313.91" r="2.85" fill="#7a2fb5" stroke="#64229c" stroke-width="0.6"/>
<circle cx="585.08" cy="328.16" r="2.85" fill="#7a2fb5" stroke="#64229c" stroke-width="0.6"/>
<circle cx="586.51" cy="330.77" r="2.85" fill="#7a2fb5" stroke="#64229c" stroke-width="0.6"/>
<line x1="461.9" y1="251.68" x2="461.9" y2="398.28" stroke="#0a0a0a" stroke-width="1.75"/>
<line x1="461.03" y1="397.41" x2="602.42" y2="397.41" stroke="#0a0a0a" stroke-width="1.75"/>
<line x1="457.7" y1="397.41" x2="461.9" y2="397.41" stroke="#0a0a0a" stroke-width="1.3"/>
<line x1="459.1" y1="376.76" x2="461.9" y2="376.76" stroke="#0a0a0a" stroke-width="1.1"/>
<line x1="457.7" y1="356.11" x2="461.9" y2="356.11" stroke="#0a0a0a" stroke-width="1.3"/>
<line x1="459.1" y1="335.46" x2="461.9" y2="335.46" stroke="#0a0a0a" stroke-width="1.1"/>
<line x1="457.7" y1="314.81" x2="461.9" y2="314.81" stroke="#0a0a0a" stroke-width="1.3"/>
<line x1="459.1" y1="294.16" x2="461.9" y2="294.16" stroke="#0a0a0a" stroke-width="1.1"/>
<line x1="457.7" y1="273.51" x2="461.9" y2="273.51" stroke="#0a0a0a" stroke-width="1.3"/>
<line x1="459.1" y1="252.86" x2="461.9" y2="252.86" stroke="#0a0a0a" stroke-width="1.1"/>
<text x="449.6" y="401.16" font-size="13.4" text-anchor="end" font-weight="normal" font-style="normal" fill="#0a0a0a" stroke="#0a0a0a" stroke-width="0.15">0</text>
<text x="449.6" y="359.86" font-size="13.4" text-anchor="end" font-weight="normal" font-style="normal" fill="#0a0a0a" stroke="#0a0a0a" stroke-width="0.15">0.5</text>
<text x="449.6" y="318.56" font-size="13.4" text-anchor="end" font-weight="normal" font-style="normal" fill="#0a0a0a" stroke="#0a0a0a" stroke-width="0.15">1</text>
<text x="449.6" y="277.26" font-size="13.4" text-anchor="end" font-weight="normal" font-style="normal" fill="#0a0a0a" stroke="#0a0a0a" stroke-width="0.15">1.5</text>
<text x="523.8" y="264" font-size="15.5" text-anchor="middle" font-weight="bold" font-style="normal" fill="#0a0a0a">TRK1</text>
<rect x="653.81" y="323.71" width="18.33" height="73.93" fill="#3c7bc9" stroke="#151515" stroke-width="0.95"/>
<rect x="690.86" y="293.07" width="18.33" height="104.58" fill="#e87a38" stroke="#151515" stroke-width="0.95"/>
<rect x="727.91" y="323.24" width="18.33" height="74.41" fill="#000000" stroke="#151515" stroke-width="0.95"/>
<rect x="764.97" y="336.3" width="18.33" height="61.35" fill="#f0c330" stroke="#151515" stroke-width="0.95"/>
<line x1="662.97" y1="316.28" x2="662.97" y2="331.25" stroke="#5e5e5e" stroke-width="0.9"/>
<line x1="660.67" y1="316.28" x2="665.27" y2="316.28" stroke="#5e5e5e" stroke-width="1"/>
<line x1="660.67" y1="331.25" x2="665.27" y2="331.25" stroke="#5e5e5e" stroke-width="1"/>
<line x1="700.02" y1="281.13" x2="700.02" y2="305.12" stroke="#5e5e5e" stroke-width="0.9"/>
<line x1="697.72" y1="281.13" x2="702.32" y2="281.13" stroke="#5e5e5e" stroke-width="1"/>
<line x1="697.72" y1="305.12" x2="702.32" y2="305.12" stroke="#5e5e5e" stroke-width="1"/>
<line x1="737.08" y1="308.21" x2="737.08" y2="337.19" stroke="#5e5e5e" stroke-width="0.9"/>
<line x1="734.78" y1="308.21" x2="739.38" y2="308.21" stroke="#5e5e5e" stroke-width="1"/>
<line x1="734.78" y1="337.19" x2="739.38" y2="337.19" stroke="#5e5e5e" stroke-width="1"/>
<line x1="774.13" y1="327.45" x2="774.13" y2="344.31" stroke="#5e5e5e" stroke-width="0.9"/>
<line x1="771.83" y1="327.45" x2="776.43" y2="327.45" stroke="#5e5e5e" stroke-width="1"/>
<line x1="771.83" y1="344.31" x2="776.43" y2="344.31" stroke="#5e5e5e" stroke-width="1"/>
<circle cx="662.97" cy="316.28" r="2.85" fill="#7a2fb5" stroke="#64229c" stroke-width="0.6"/>
<circle cx="662.97" cy="324.12" r="2.85" fill="#7a2fb5" stroke="#64229c" stroke-width="0.6"/>
<circle cx="663.44" cy="331.25" r="2.85" fill="#7a2fb5" stroke="#64229c" stroke-width="0.6"/>
<circle cx="700.26" cy="281.13" r="2.85" fill="#7a2fb5" stroke="#64229c" stroke-width="0.6"/>
<circle cx="699.79" cy="293.01" r="2.85" fill="#7a2fb5" stroke="#64229c" stroke-width="0.6"/>
<circle cx="700.02" cy="305.12" r="2.85" fill="#7a2fb5" stroke="#64229c" stroke-width="0.6"/>
<circle cx="737.32" cy="308.21" r="2.85" fill="#7a2fb5" stroke="#64229c" stroke-width="0.6"/>
<circle cx="737.32" cy="325.79" r="2.85" fill="#7a2fb5" stroke="#64229c" stroke-width="0.6"/>
<circle cx="737.32" cy="336.24" r="2.85" fill="#7a2fb5" stroke="#64229c" stroke-width="0.6"/>
<circle cx="774.13" cy="327.45" r="2.85" fill="#7a2fb5" stroke="#64229c" stroke-width="0.6"/>
<circle cx="774.13" cy="337.66" r="2.85" fill="#7a2fb5" stroke="#64229c" stroke-width="0.6"/>
<circle cx="774.13" cy="344.31" r="2.85" fill="#7a2fb5" stroke="#64229c" stroke-width="0.6"/>
<line x1="644.78" y1="251.68" x2="644.78" y2="398.52" stroke="#0a0a0a" stroke-width="1.75"/>
<line x1="643.9" y1="397.64" x2="792.42" y2="397.64" stroke="#0a0a0a" stroke-width="1.75"/>
<line x1="640.58" y1="397.64" x2="644.78" y2="397.64" stroke="#0a0a0a" stroke-width="1.3"/>
<line x1="641.98" y1="379.51" x2="644.78" y2="379.51" stroke="#0a0a0a" stroke-width="1.1"/>
<line x1="640.58" y1="361.37" x2="644.78" y2="361.37" stroke="#0a0a0a" stroke-width="1.3"/>
<line x1="641.98" y1="343.23" x2="644.78" y2="343.23" stroke="#0a0a0a" stroke-width="1.1"/>
<line x1="640.58" y1="325.1" x2="644.78" y2="325.1" stroke="#0a0a0a" stroke-width="1.3"/>
<line x1="641.98" y1="306.96" x2="644.78" y2="306.96" stroke="#0a0a0a" stroke-width="1.1"/>
<line x1="640.58" y1="288.82" x2="644.78" y2="288.82" stroke="#0a0a0a" stroke-width="1.3"/>
<line x1="641.98" y1="270.69" x2="644.78" y2="270.69" stroke="#0a0a0a" stroke-width="1.1"/>
<line x1="640.58" y1="252.55" x2="644.78" y2="252.55" stroke="#0a0a0a" stroke-width="1.3"/>
<text x="632.48" y="401.4" font-size="13.4" text-anchor="end" font-weight="normal" font-style="normal" fill="#0a0a0a" stroke="#0a0a0a" stroke-width="0.15">0</text>
<text x="632.48" y="365.12" font-size="13.4" text-anchor="end" font-weight="normal" font-style="normal" fill="#0a0a0a" stroke="#0a0a0a" stroke-width="0.15">0.5</text>
<text x="632.48" y="328.85" font-size="13.4" text-anchor="end" font-weight="normal" font-style="normal" fill="#0a0a0a" stroke="#0a0a0a" stroke-width="0.15">1</text>
<text x="632.48" y="292.58" font-size="13.4" text-anchor="end" font-weight="normal" font-style="normal" fill="#0a0a0a" stroke="#0a0a0a" stroke-width="0.15">1.5</text>
<text x="632.48" y="256.3" font-size="13.4" text-anchor="end" font-weight="normal" font-style="normal" fill="#0a0a0a" stroke="#0a0a0a" stroke-width="0.15">2</text>
<text x="708.57" y="264" font-size="15.5" text-anchor="middle" font-weight="bold" font-style="normal" fill="#0a0a0a">RPI1</text>
<text x="699.55" y="281.11" font-size="21" text-anchor="middle" font-weight="normal" font-style="normal" fill="#0a0a0a" stroke="#0a0a0a" stroke-width="0.3">*</text>
<rect x="83.33" y="506.32" width="18.33" height="73.46" fill="#3c7bc9" stroke="#151515" stroke-width="0.95"/>
<rect x="120.62" y="479.01" width="18.09" height="100.78" fill="#e87a38" stroke="#151515" stroke-width="0.95"/>
<rect x="157.68" y="507.27" width="18.09" height="72.51" fill="#000000" stroke="#151515" stroke-width="0.95"/>
<rect x="194.73" y="541.24" width="18.09" height="38.54" fill="#f0c330" stroke="#151515" stroke-width="0.95"/>
<line x1="92.49" y1="497.71" x2="92.49" y2="516" stroke="#5e5e5e" stroke-width="0.9"/>
<line x1="90.19" y1="497.71" x2="94.79" y2="497.71" stroke="#5e5e5e" stroke-width="1"/>
<line x1="90.19" y1="516" x2="94.79" y2="516" stroke="#5e5e5e" stroke-width="1"/>
<line x1="129.67" y1="477.52" x2="129.67" y2="482.75" stroke="#5e5e5e" stroke-width="0.9"/>
<line x1="127.37" y1="477.52" x2="131.97" y2="477.52" stroke="#5e5e5e" stroke-width="1"/>
<line x1="127.37" y1="482.75" x2="131.97" y2="482.75" stroke="#5e5e5e" stroke-width="1"/>
<line x1="166.72" y1="501.51" x2="166.72" y2="512.44" stroke="#5e5e5e" stroke-width="0.9"/>
<line x1="164.42" y1="501.51" x2="169.02" y2="501.51" stroke="#5e5e5e" stroke-width="1"/>
<line x1="164.42" y1="512.44" x2="169.02" y2="512.44" stroke="#5e5e5e" stroke-width="1"/>
<line x1="203.78" y1="539.28" x2="203.78" y2="543.32" stroke="#5e5e5e" stroke-width="0.9"/>
<line x1="201.48" y1="539.28" x2="206.08" y2="539.28" stroke="#5e5e5e" stroke-width="1"/>
<line x1="201.48" y1="543.32" x2="206.08" y2="543.32" stroke="#5e5e5e" stroke-width="1"/>
<circle cx="92.97" cy="501.75" r="2.85" fill="#7a2fb5" stroke="#64229c" stroke-width="0.6"/>
<circle cx="92.49" cy="502.94" r="2.85" fill="#7a2fb5" stroke="#64229c" stroke-width="0.6"/>
<circle cx="92.73" cy="516.47" r="2.85" fill="#7a2fb5" stroke="#64229c" stroke-width="0.6"/>
<circle cx="129.79" cy="477.52" r="2.85" fill="#7a2fb5" stroke="#64229c" stroke-width="0.6"/>
<circle cx="130.97" cy="478.71" r="2.85" fill="#7a2fb5" stroke="#64229c" stroke-width="0.6"/>
<circle cx="129.55" cy="483.7" r="2.85" fill="#7a2fb5" stroke="#64229c" stroke-width="0.6"/>
<circle cx="166.6" cy="501.51" r="2.85" fill="#7a2fb5" stroke="#64229c" stroke-width="0.6"/>
<circle cx="167.55" cy="510.06" r="2.85" fill="#7a2fb5" stroke="#64229c" stroke-width="0.6"/>
<circle cx="167.79" cy="511.96" r="2.85" fill="#7a2fb5" stroke="#64229c" stroke-width="0.6"/>
<circle cx="203.66" cy="539.28" r="2.85" fill="#7a2fb5" stroke="#64229c" stroke-width="0.6"/>
<circle cx="202.95" cy="542.13" r="2.85" fill="#7a2fb5" stroke="#64229c" stroke-width="0.6"/>
<circle cx="204.61" cy="543.32" r="2.85" fill="#7a2fb5" stroke="#64229c" stroke-width="0.6"/>
<line x1="74.3" y1="434.05" x2="74.3" y2="580.66" stroke="#0a0a0a" stroke-width="1.75"/>
<line x1="73.43" y1="579.78" x2="222.42" y2="579.78" stroke="#0a0a0a" stroke-width="1.75"/>
<line x1="70.1" y1="579.78" x2="74.3" y2="579.78" stroke="#0a0a0a" stroke-width="1.3"/>
<line x1="71.5" y1="561.68" x2="74.3" y2="561.68" stroke="#0a0a0a" stroke-width="1.1"/>
<line x1="70.1" y1="543.57" x2="74.3" y2="543.57" stroke="#0a0a0a" stroke-width="1.3"/>
<line x1="71.5" y1="525.46" x2="74.3" y2="525.46" stroke="#0a0a0a" stroke-width="1.1"/>
<line x1="70.1" y1="507.35" x2="74.3" y2="507.35" stroke="#0a0a0a" stroke-width="1.3"/>
<line x1="71.5" y1="489.25" x2="74.3" y2="489.25" stroke="#0a0a0a" stroke-width="1.1"/>
<line x1="70.1" y1="471.14" x2="74.3" y2="471.14" stroke="#0a0a0a" stroke-width="1.3"/>
<line x1="71.5" y1="453.03" x2="74.3" y2="453.03" stroke="#0a0a0a" stroke-width="1.1"/>
<line x1="70.1" y1="434.93" x2="74.3" y2="434.93" stroke="#0a0a0a" stroke-width="1.3"/>
<text x="62" y="583.53" font-size="13.4" text-anchor="end" font-weight="normal" font-style="normal" fill="#0a0a0a" stroke="#0a0a0a" stroke-width="0.15">0</text>
<text x="62" y="547.32" font-size="13.4" text-anchor="end" font-weight="normal" font-style="normal" fill="#0a0a0a" stroke="#0a0a0a" stroke-width="0.15">0.5</text>
<text x="62" y="511.11" font-size="13.4" text-anchor="end" font-weight="normal" font-style="normal" fill="#0a0a0a" stroke="#0a0a0a" stroke-width="0.15">1</text>
<text x="62" y="474.89" font-size="13.4" text-anchor="end" font-weight="normal" font-style="normal" fill="#0a0a0a" stroke="#0a0a0a" stroke-width="0.15">1.5</text>
<text x="62" y="438.68" font-size="13.4" text-anchor="end" font-weight="normal" font-style="normal" fill="#0a0a0a" stroke="#0a0a0a" stroke-width="0.15">2</text>
<text x="135.72" y="443.53" font-size="15.5" text-anchor="middle" font-weight="bold" font-style="normal" fill="#0a0a0a">PRK1</text>
<text x="129.07" y="476.55" font-size="21" text-anchor="middle" font-weight="normal" font-style="normal" fill="#0a0a0a" stroke="#0a0a0a" stroke-width="0.3">*</text>
<text x="202.71" y="537.12" font-size="21" text-anchor="middle" font-weight="normal" font-style="normal" fill="#0a0a0a" stroke="#0a0a0a" stroke-width="0.3">*</text>
<rect x="273.33" y="504.42" width="18.56" height="75.12" fill="#3c7bc9" stroke="#151515" stroke-width="0.95"/>
<rect x="310.62" y="475.68" width="18.33" height="103.86" fill="#e87a38" stroke="#151515" stroke-width="0.95"/>
<rect x="347.68" y="506.8" width="18.33" height="72.75" fill="#000000" stroke="#151515" stroke-width="0.95"/>
<rect x="384.73" y="522.48" width="18.33" height="57.07" fill="#f0c330" stroke="#151515" stroke-width="0.95"/>
<line x1="282.61" y1="494.86" x2="282.61" y2="514.81" stroke="#5e5e5e" stroke-width="0.9"/>
<line x1="280.31" y1="494.86" x2="284.91" y2="494.86" stroke="#5e5e5e" stroke-width="1"/>
<line x1="280.31" y1="514.81" x2="284.91" y2="514.81" stroke="#5e5e5e" stroke-width="1"/>
<line x1="319.79" y1="465.64" x2="319.79" y2="486.31" stroke="#5e5e5e" stroke-width="0.9"/>
<line x1="317.49" y1="465.64" x2="322.09" y2="465.64" stroke="#5e5e5e" stroke-width="1"/>
<line x1="317.49" y1="486.31" x2="322.09" y2="486.31" stroke="#5e5e5e" stroke-width="1"/>
<line x1="356.84" y1="501.99" x2="356.84" y2="512.44" stroke="#5e5e5e" stroke-width="0.9"/>
<line x1="354.54" y1="501.99" x2="359.14" y2="501.99" stroke="#5e5e5e" stroke-width="1"/>
<line x1="354.54" y1="512.44" x2="359.14" y2="512.44" stroke="#5e5e5e" stroke-width="1"/>
<line x1="393.9" y1="520.75" x2="393.9" y2="523.84" stroke="#5e5e5e" stroke-width="0.9"/>
<line x1="391.6" y1="520.75" x2="396.2" y2="520.75" stroke="#5e5e5e" stroke-width="1"/>
<line x1="391.6" y1="523.84" x2="396.2" y2="523.84" stroke="#5e5e5e" stroke-width="1"/>
<circle cx="282.49" cy="494.86" r="2.85" fill="#7a2fb5" stroke="#64229c" stroke-width="0.6"/>
<circle cx="282.49" cy="503.17" r="2.85" fill="#7a2fb5" stroke="#64229c" stroke-width="0.6"/>
<circle cx="282.49" cy="515.29" r="2.85" fill="#7a2fb5" stroke="#64229c" stroke-width="0.6"/>
<circle cx="319.55" cy="465.64" r="2.85" fill="#7a2fb5" stroke="#64229c" stroke-width="0.6"/>
<circle cx="319.55" cy="474.91" r="2.85" fill="#7a2fb5" stroke="#64229c" stroke-width="0.6"/>
<circle cx="319.55" cy="486.07" r="2.85" fill="#7a2fb5" stroke="#64229c" stroke-width="0.6"/>
<circle cx="356.37" cy="501.99" r="2.85" fill="#7a2fb5" stroke="#64229c" stroke-width="0.6"/>
<circle cx="357.55" cy="505.31" r="2.85" fill="#7a2fb5" stroke="#64229c" stroke-width="0.6"/>
<circle cx="356.6" cy="513.15" r="2.85" fill="#7a2fb5" stroke="#64229c" stroke-width="0.6"/>
<circle cx="393.42" cy="521.46" r="2.85" fill="#7a2fb5" stroke="#64229c" stroke-width="0.6"/>
<circle cx="393.9" cy="522.65" r="2.85" fill="#7a2fb5" stroke="#64229c" stroke-width="0.6"/>
<circle cx="393.42" cy="523.6" r="2.85" fill="#7a2fb5" stroke="#64229c" stroke-width="0.6"/>
<line x1="264.3" y1="434.05" x2="264.3" y2="580.42" stroke="#0a0a0a" stroke-width="1.75"/>
<line x1="263.43" y1="579.54" x2="412.42" y2="579.54" stroke="#0a0a0a" stroke-width="1.75"/>
<line x1="260.1" y1="579.54" x2="264.3" y2="579.54" stroke="#0a0a0a" stroke-width="1.3"/>
<line x1="261.5" y1="561.47" x2="264.3" y2="561.47" stroke="#0a0a0a" stroke-width="1.1"/>
<line x1="260.1" y1="543.39" x2="264.3" y2="543.39" stroke="#0a0a0a" stroke-width="1.3"/>
<line x1="261.5" y1="525.31" x2="264.3" y2="525.31" stroke="#0a0a0a" stroke-width="1.1"/>
<line x1="260.1" y1="507.24" x2="264.3" y2="507.24" stroke="#0a0a0a" stroke-width="1.3"/>
<line x1="261.5" y1="489.16" x2="264.3" y2="489.16" stroke="#0a0a0a" stroke-width="1.1"/>
<line x1="260.1" y1="471.08" x2="264.3" y2="471.08" stroke="#0a0a0a" stroke-width="1.3"/>
<line x1="261.5" y1="453" x2="264.3" y2="453" stroke="#0a0a0a" stroke-width="1.1"/>
<line x1="260.1" y1="434.93" x2="264.3" y2="434.93" stroke="#0a0a0a" stroke-width="1.3"/>
<text x="252" y="583.3" font-size="13.4" text-anchor="end" font-weight="normal" font-style="normal" fill="#0a0a0a" stroke="#0a0a0a" stroke-width="0.15">0</text>
<text x="252" y="547.14" font-size="13.4" text-anchor="end" font-weight="normal" font-style="normal" fill="#0a0a0a" stroke="#0a0a0a" stroke-width="0.15">0.5</text>
<text x="252" y="510.99" font-size="13.4" text-anchor="end" font-weight="normal" font-style="normal" fill="#0a0a0a" stroke="#0a0a0a" stroke-width="0.15">1</text>
<text x="252" y="474.83" font-size="13.4" text-anchor="end" font-weight="normal" font-style="normal" fill="#0a0a0a" stroke="#0a0a0a" stroke-width="0.15">1.5</text>
<text x="252" y="438.68" font-size="13.4" text-anchor="end" font-weight="normal" font-style="normal" fill="#0a0a0a" stroke="#0a0a0a" stroke-width="0.15">2</text>
<text x="336.41" y="443.53" font-size="15.5" text-anchor="middle" font-weight="bold" font-style="normal" fill="#0a0a0a">RBCS2</text>
<text x="317.41" y="464.67" font-size="21" text-anchor="middle" font-weight="normal" font-style="normal" fill="#0a0a0a" stroke="#0a0a0a" stroke-width="0.3">*</text>
<text x="392.95" y="518.59" font-size="21" text-anchor="middle" font-weight="normal" font-style="normal" fill="#0a0a0a" stroke="#0a0a0a" stroke-width="0.3">*</text>
<rect x="464.76" y="507.04" width="18.33" height="72.51" fill="#3c7bc9" stroke="#151515" stroke-width="0.95"/>
<rect x="502.05" y="473.78" width="18.33" height="105.76" fill="#e87a38" stroke="#151515" stroke-width="0.95"/>
<rect x="539.1" y="507.04" width="18.33" height="72.51" fill="#000000" stroke="#151515" stroke-width="0.95"/>
<rect x="576.16" y="524.61" width="18.33" height="54.93" fill="#f0c330" stroke="#151515" stroke-width="0.95"/>
<line x1="473.92" y1="497.23" x2="473.92" y2="514.81" stroke="#5e5e5e" stroke-width="0.9"/>
<line x1="471.62" y1="497.23" x2="476.22" y2="497.23" stroke="#5e5e5e" stroke-width="1"/>
<line x1="471.62" y1="514.81" x2="476.22" y2="514.81" stroke="#5e5e5e" stroke-width="1"/>
<line x1="511.21" y1="466.83" x2="511.21" y2="480.37" stroke="#5e5e5e" stroke-width="0.9"/>
<line x1="508.91" y1="466.83" x2="513.51" y2="466.83" stroke="#5e5e5e" stroke-width="1"/>
<line x1="508.91" y1="480.37" x2="513.51" y2="480.37" stroke="#5e5e5e" stroke-width="1"/>
<line x1="548.27" y1="502.22" x2="548.27" y2="511.96" stroke="#5e5e5e" stroke-width="0.9"/>
<line x1="545.97" y1="502.22" x2="550.57" y2="502.22" stroke="#5e5e5e" stroke-width="1"/>
<line x1="545.97" y1="511.96" x2="550.57" y2="511.96" stroke="#5e5e5e" stroke-width="1"/>
<line x1="585.32" y1="517.19" x2="585.32" y2="530.25" stroke="#5e5e5e" stroke-width="0.9"/>
<line x1="583.02" y1="517.19" x2="587.62" y2="517.19" stroke="#5e5e5e" stroke-width="1"/>
<line x1="583.02" y1="530.25" x2="587.62" y2="530.25" stroke="#5e5e5e" stroke-width="1"/>
<circle cx="474.16" cy="497.23" r="2.85" fill="#7a2fb5" stroke="#64229c" stroke-width="0.6"/>
<circle cx="474.16" cy="508.16" r="2.85" fill="#7a2fb5" stroke="#64229c" stroke-width="0.6"/>
<circle cx="474.16" cy="513.39" r="2.85" fill="#7a2fb5" stroke="#64229c" stroke-width="0.6"/>
<circle cx="510.74" cy="466.83" r="2.85" fill="#7a2fb5" stroke="#64229c" stroke-width="0.6"/>
<circle cx="510.74" cy="473.24" r="2.85" fill="#7a2fb5" stroke="#64229c" stroke-width="0.6"/>
<circle cx="510.74" cy="480.13" r="2.85" fill="#7a2fb5" stroke="#64229c" stroke-width="0.6"/>
<circle cx="547.79" cy="502.22" r="2.85" fill="#7a2fb5" stroke="#64229c" stroke-width="0.6"/>
<circle cx="547.79" cy="506.74" r="2.85" fill="#7a2fb5" stroke="#64229c" stroke-width="0.6"/>
<circle cx="547.79" cy="511.96" r="2.85" fill="#7a2fb5" stroke="#64229c" stroke-width="0.6"/>
<circle cx="584.85" cy="517.19" r="2.85" fill="#7a2fb5" stroke="#64229c" stroke-width="0.6"/>
<circle cx="584.37" cy="526.69" r="2.85" fill="#7a2fb5" stroke="#64229c" stroke-width="0.6"/>
<circle cx="584.85" cy="529.06" r="2.85" fill="#7a2fb5" stroke="#64229c" stroke-width="0.6"/>
<line x1="455.55" y1="434.05" x2="455.55" y2="580.42" stroke="#0a0a0a" stroke-width="1.75"/>
<line x1="454.68" y1="579.54" x2="602.9" y2="579.54" stroke="#0a0a0a" stroke-width="1.75"/>
<line x1="451.35" y1="579.54" x2="455.55" y2="579.54" stroke="#0a0a0a" stroke-width="1.3"/>
<line x1="452.75" y1="561.47" x2="455.55" y2="561.47" stroke="#0a0a0a" stroke-width="1.1"/>
<line x1="451.35" y1="543.39" x2="455.55" y2="543.39" stroke="#0a0a0a" stroke-width="1.3"/>
<line x1="452.75" y1="525.31" x2="455.55" y2="525.31" stroke="#0a0a0a" stroke-width="1.1"/>
<line x1="451.35" y1="507.24" x2="455.55" y2="507.24" stroke="#0a0a0a" stroke-width="1.3"/>
<line x1="452.75" y1="489.16" x2="455.55" y2="489.16" stroke="#0a0a0a" stroke-width="1.1"/>
<line x1="451.35" y1="471.08" x2="455.55" y2="471.08" stroke="#0a0a0a" stroke-width="1.3"/>
<line x1="452.75" y1="453" x2="455.55" y2="453" stroke="#0a0a0a" stroke-width="1.1"/>
<line x1="451.35" y1="434.93" x2="455.55" y2="434.93" stroke="#0a0a0a" stroke-width="1.3"/>
<text x="443.25" y="583.3" font-size="13.4" text-anchor="end" font-weight="normal" font-style="normal" fill="#0a0a0a" stroke="#0a0a0a" stroke-width="0.15">0</text>
<text x="443.25" y="547.14" font-size="13.4" text-anchor="end" font-weight="normal" font-style="normal" fill="#0a0a0a" stroke="#0a0a0a" stroke-width="0.15">0.5</text>
<text x="443.25" y="510.99" font-size="13.4" text-anchor="end" font-weight="normal" font-style="normal" fill="#0a0a0a" stroke="#0a0a0a" stroke-width="0.15">1</text>
<text x="443.25" y="474.83" font-size="13.4" text-anchor="end" font-weight="normal" font-style="normal" fill="#0a0a0a" stroke="#0a0a0a" stroke-width="0.15">1.5</text>
<text x="443.25" y="438.68" font-size="13.4" text-anchor="end" font-weight="normal" font-style="normal" fill="#0a0a0a" stroke="#0a0a0a" stroke-width="0.15">2</text>
<text x="525.23" y="443.53" font-size="15.5" text-anchor="middle" font-weight="bold" font-style="normal" fill="#0a0a0a">RBCS1</text>
<text x="510.26" y="465.86" font-size="21" text-anchor="middle" font-weight="normal" font-style="normal" fill="#0a0a0a" stroke="#0a0a0a" stroke-width="0.3">*</text>
<text x="583.9" y="518.11" font-size="21" text-anchor="middle" font-weight="normal" font-style="normal" fill="#0a0a0a" stroke="#0a0a0a" stroke-width="0.3">*</text>
<rect x="654.28" y="500.62" width="18.33" height="78.92" fill="#3c7bc9" stroke="#151515" stroke-width="0.95"/>
<rect x="691.57" y="476.87" width="18.33" height="102.68" fill="#e87a38" stroke="#151515" stroke-width="0.95"/>
<rect x="728.63" y="506.56" width="18.33" height="72.98" fill="#000000" stroke="#151515" stroke-width="0.95"/>
<rect x="765.68" y="516.06" width="18.33" height="63.48" fill="#f0c330" stroke="#151515" stroke-width="0.95"/>
<line x1="663.44" y1="497" x2="663.44" y2="502.94" stroke="#5e5e5e" stroke-width="0.9"/>
<line x1="661.14" y1="497" x2="665.74" y2="497" stroke="#5e5e5e" stroke-width="1"/>
<line x1="661.14" y1="502.94" x2="665.74" y2="502.94" stroke="#5e5e5e" stroke-width="1"/>
<line x1="700.74" y1="470.39" x2="700.74" y2="483.46" stroke="#5e5e5e" stroke-width="0.9"/>
<line x1="698.44" y1="470.39" x2="703.04" y2="470.39" stroke="#5e5e5e" stroke-width="1"/>
<line x1="698.44" y1="483.46" x2="703.04" y2="483.46" stroke="#5e5e5e" stroke-width="1"/>
<line x1="737.79" y1="495.1" x2="737.79" y2="516" stroke="#5e5e5e" stroke-width="0.9"/>
<line x1="735.49" y1="495.1" x2="740.09" y2="495.1" stroke="#5e5e5e" stroke-width="1"/>
<line x1="735.49" y1="516" x2="740.09" y2="516" stroke="#5e5e5e" stroke-width="1"/>
<line x1="774.85" y1="510.54" x2="774.85" y2="523.13" stroke="#5e5e5e" stroke-width="0.9"/>
<line x1="772.55" y1="510.54" x2="777.15" y2="510.54" stroke="#5e5e5e" stroke-width="1"/>
<line x1="772.55" y1="523.13" x2="777.15" y2="523.13" stroke="#5e5e5e" stroke-width="1"/>
<circle cx="663.68" cy="497" r="2.85" fill="#7a2fb5" stroke="#64229c" stroke-width="0.6"/>
<circle cx="663.68" cy="500.56" r="2.85" fill="#7a2fb5" stroke="#64229c" stroke-width="0.6"/>
<circle cx="663.68" cy="502.46" r="2.85" fill="#7a2fb5" stroke="#64229c" stroke-width="0.6"/>
<circle cx="700.74" cy="470.39" r="2.85" fill="#7a2fb5" stroke="#64229c" stroke-width="0.6"/>
<circle cx="700.5" cy="476.09" r="2.85" fill="#7a2fb5" stroke="#64229c" stroke-width="0.6"/>
<circle cx="700.5" cy="483.93" r="2.85" fill="#7a2fb5" stroke="#64229c" stroke-width="0.6"/>
<circle cx="737.79" cy="495.1" r="2.85" fill="#7a2fb5" stroke="#64229c" stroke-width="0.6"/>
<circle cx="737.79" cy="509.59" r="2.85" fill="#7a2fb5" stroke="#64229c" stroke-width="0.6"/>
<circle cx="737.79" cy="515.29" r="2.85" fill="#7a2fb5" stroke="#64229c" stroke-width="0.6"/>
<circle cx="774.13" cy="510.54" r="2.85" fill="#7a2fb5" stroke="#64229c" stroke-width="0.6"/>
<circle cx="774.61" cy="515.29" r="2.85" fill="#7a2fb5" stroke="#64229c" stroke-width="0.6"/>
<circle cx="774.37" cy="523.84" r="2.85" fill="#7a2fb5" stroke="#64229c" stroke-width="0.6"/>
<line x1="645.25" y1="434.05" x2="645.25" y2="580.42" stroke="#0a0a0a" stroke-width="1.75"/>
<line x1="644.38" y1="579.54" x2="792.9" y2="579.54" stroke="#0a0a0a" stroke-width="1.75"/>
<line x1="641.05" y1="579.54" x2="645.25" y2="579.54" stroke="#0a0a0a" stroke-width="1.3"/>
<line x1="642.45" y1="561.47" x2="645.25" y2="561.47" stroke="#0a0a0a" stroke-width="1.1"/>
<line x1="641.05" y1="543.39" x2="645.25" y2="543.39" stroke="#0a0a0a" stroke-width="1.3"/>
<line x1="642.45" y1="525.31" x2="645.25" y2="525.31" stroke="#0a0a0a" stroke-width="1.1"/>
<line x1="641.05" y1="507.24" x2="645.25" y2="507.24" stroke="#0a0a0a" stroke-width="1.3"/>
<line x1="642.45" y1="489.16" x2="645.25" y2="489.16" stroke="#0a0a0a" stroke-width="1.1"/>
<line x1="641.05" y1="471.08" x2="645.25" y2="471.08" stroke="#0a0a0a" stroke-width="1.3"/>
<line x1="642.45" y1="453" x2="645.25" y2="453" stroke="#0a0a0a" stroke-width="1.1"/>
<line x1="641.05" y1="434.93" x2="645.25" y2="434.93" stroke="#0a0a0a" stroke-width="1.3"/>
<text x="632.95" y="583.3" font-size="13.4" text-anchor="end" font-weight="normal" font-style="normal" fill="#0a0a0a" stroke="#0a0a0a" stroke-width="0.15">0</text>
<text x="632.95" y="547.14" font-size="13.4" text-anchor="end" font-weight="normal" font-style="normal" fill="#0a0a0a" stroke="#0a0a0a" stroke-width="0.15">0.5</text>
<text x="632.95" y="510.99" font-size="13.4" text-anchor="end" font-weight="normal" font-style="normal" fill="#0a0a0a" stroke="#0a0a0a" stroke-width="0.15">1</text>
<text x="632.95" y="474.83" font-size="13.4" text-anchor="end" font-weight="normal" font-style="normal" fill="#0a0a0a" stroke="#0a0a0a" stroke-width="0.15">1.5</text>
<text x="632.95" y="438.68" font-size="13.4" text-anchor="end" font-weight="normal" font-style="normal" fill="#0a0a0a" stroke="#0a0a0a" stroke-width="0.15">2</text>
<text x="711.66" y="443.53" font-size="15.5" text-anchor="middle" font-weight="bold" font-style="normal" fill="#0a0a0a">FBA1</text>
<text x="699.55" y="468.23" font-size="21" text-anchor="middle" font-weight="normal" font-style="normal" fill="#0a0a0a" stroke="#0a0a0a" stroke-width="0.3">*</text>
<rect x="83.2" y="689.46" width="18.46" height="72.84" fill="#3c7bc9" stroke="#151515" stroke-width="0.95"/>
<rect x="120.52" y="657.13" width="17.93" height="105.16" fill="#e87a38" stroke="#151515" stroke-width="0.95"/>
<rect x="157.58" y="687.35" width="18.2" height="74.94" fill="#000000" stroke="#151515" stroke-width="0.95"/>
<rect x="194.63" y="708.38" width="18.2" height="53.91" fill="#f0c330" stroke="#151515" stroke-width="0.95"/>
<line x1="92.43" y1="679.43" x2="92.43" y2="698.35" stroke="#5e5e5e" stroke-width="0.9"/>
<line x1="90.13" y1="679.43" x2="94.73" y2="679.43" stroke="#5e5e5e" stroke-width="1"/>
<line x1="90.13" y1="698.35" x2="94.73" y2="698.35" stroke="#5e5e5e" stroke-width="1"/>
<line x1="129.49" y1="649.21" x2="129.49" y2="665.5" stroke="#5e5e5e" stroke-width="0.9"/>
<line x1="127.19" y1="649.21" x2="131.79" y2="649.21" stroke="#5e5e5e" stroke-width="1"/>
<line x1="127.19" y1="665.5" x2="131.79" y2="665.5" stroke="#5e5e5e" stroke-width="1"/>
<line x1="166.68" y1="678.64" x2="166.68" y2="694.41" stroke="#5e5e5e" stroke-width="0.9"/>
<line x1="164.38" y1="678.64" x2="168.98" y2="678.64" stroke="#5e5e5e" stroke-width="1"/>
<line x1="164.38" y1="694.41" x2="168.98" y2="694.41" stroke="#5e5e5e" stroke-width="1"/>
<line x1="203.73" y1="703.61" x2="203.73" y2="712.28" stroke="#5e5e5e" stroke-width="0.9"/>
<line x1="201.43" y1="703.61" x2="206.03" y2="703.61" stroke="#5e5e5e" stroke-width="1"/>
<line x1="201.43" y1="712.28" x2="206.03" y2="712.28" stroke="#5e5e5e" stroke-width="1"/>
<circle cx="92.3" cy="679.43" r="2.85" fill="#7a2fb5" stroke="#64229c" stroke-width="0.6"/>
<circle cx="92.3" cy="689.94" r="2.85" fill="#7a2fb5" stroke="#64229c" stroke-width="0.6"/>
<circle cx="92.3" cy="698.88" r="2.85" fill="#7a2fb5" stroke="#64229c" stroke-width="0.6"/>
<circle cx="129.36" cy="649.21" r="2.85" fill="#7a2fb5" stroke="#64229c" stroke-width="0.6"/>
<circle cx="129.36" cy="654.99" r="2.85" fill="#7a2fb5" stroke="#64229c" stroke-width="0.6"/>
<circle cx="129.36" cy="666.82" r="2.85" fill="#7a2fb5" stroke="#64229c" stroke-width="0.6"/>
<circle cx="166.15" cy="678.64" r="2.85" fill="#7a2fb5" stroke="#64229c" stroke-width="0.6"/>
<circle cx="166.68" cy="689.16" r="2.85" fill="#7a2fb5" stroke="#64229c" stroke-width="0.6"/>
<circle cx="166.68" cy="693.89" r="2.85" fill="#7a2fb5" stroke="#64229c" stroke-width="0.6"/>
<circle cx="203.47" cy="703.61" r="2.85" fill="#7a2fb5" stroke="#64229c" stroke-width="0.6"/>
<circle cx="203.47" cy="709.13" r="2.85" fill="#7a2fb5" stroke="#64229c" stroke-width="0.6"/>
<circle cx="203.47" cy="711.5" r="2.85" fill="#7a2fb5" stroke="#64229c" stroke-width="0.6"/>
<line x1="74.59" y1="616.93" x2="74.59" y2="763.17" stroke="#0a0a0a" stroke-width="1.75"/>
<line x1="73.71" y1="762.29" x2="222.65" y2="762.29" stroke="#0a0a0a" stroke-width="1.75"/>
<line x1="70.39" y1="762.29" x2="74.59" y2="762.29" stroke="#0a0a0a" stroke-width="1.3"/>
<line x1="71.79" y1="744.23" x2="74.59" y2="744.23" stroke="#0a0a0a" stroke-width="1.1"/>
<line x1="70.39" y1="726.17" x2="74.59" y2="726.17" stroke="#0a0a0a" stroke-width="1.3"/>
<line x1="71.79" y1="708.11" x2="74.59" y2="708.11" stroke="#0a0a0a" stroke-width="1.1"/>
<line x1="70.39" y1="690.05" x2="74.59" y2="690.05" stroke="#0a0a0a" stroke-width="1.3"/>
<line x1="71.79" y1="671.99" x2="74.59" y2="671.99" stroke="#0a0a0a" stroke-width="1.1"/>
<line x1="70.39" y1="653.93" x2="74.59" y2="653.93" stroke="#0a0a0a" stroke-width="1.3"/>
<line x1="71.79" y1="635.87" x2="74.59" y2="635.87" stroke="#0a0a0a" stroke-width="1.1"/>
<line x1="70.39" y1="617.81" x2="74.59" y2="617.81" stroke="#0a0a0a" stroke-width="1.3"/>
<text x="62.29" y="766.04" font-size="13.4" text-anchor="end" font-weight="normal" font-style="normal" fill="#0a0a0a" stroke="#0a0a0a" stroke-width="0.15">0</text>
<text x="62.29" y="729.92" font-size="13.4" text-anchor="end" font-weight="normal" font-style="normal" fill="#0a0a0a" stroke="#0a0a0a" stroke-width="0.15">0.5</text>
<text x="62.29" y="693.8" font-size="13.4" text-anchor="end" font-weight="normal" font-style="normal" fill="#0a0a0a" stroke="#0a0a0a" stroke-width="0.15">1</text>
<text x="62.29" y="657.68" font-size="13.4" text-anchor="end" font-weight="normal" font-style="normal" fill="#0a0a0a" stroke="#0a0a0a" stroke-width="0.15">1.5</text>
<text x="62.29" y="621.56" font-size="13.4" text-anchor="end" font-weight="normal" font-style="normal" fill="#0a0a0a" stroke="#0a0a0a" stroke-width="0.15">2</text>
<text x="139.08" y="619.45" font-size="15.5" text-anchor="middle" font-weight="bold" font-style="normal" fill="#0a0a0a">FBP2</text>
<text x="128.04" y="647.94" font-size="21" text-anchor="middle" font-weight="normal" font-style="normal" fill="#0a0a0a" stroke="#0a0a0a" stroke-width="0.3">*</text>
<text x="205.57" y="701.55" font-size="21" text-anchor="middle" font-weight="normal" font-style="normal" fill="#0a0a0a" stroke="#0a0a0a" stroke-width="0.3">*</text>
<text transform="translate(94.43 777.14) rotate(-55) scale(0.9 1)" font-size="14.6" text-anchor="end" font-style="normal" fill="#0a0a0a" stroke="#0a0a0a" stroke-width="0.25">CC849</text>
<text transform="translate(133.19 778.09) rotate(-55) scale(0.9 1)" font-size="14.6" text-anchor="end" font-style="normal" fill="#0a0a0a" stroke="#0a0a0a" stroke-width="0.25">OEPC</text>
<text transform="translate(171.08 777.64) rotate(-55) scale(0.9 1)" font-size="14.6" text-anchor="end" font-style="normal" fill="#0a0a0a" stroke="#0a0a0a" stroke-width="0.25">CC5325</text>
<text transform="translate(207.63 782.79) rotate(-55) scale(0.9 1)" font-size="14.6" text-anchor="end" font-style="italic" fill="#0a0a0a" stroke="#0a0a0a" stroke-width="0.25">pckd</text>
<rect x="273.73" y="688.4" width="18.46" height="73.89" fill="#3c7bc9" stroke="#151515" stroke-width="0.95"/>
<rect x="310.78" y="648.19" width="18.46" height="114.1" fill="#e87a38" stroke="#151515" stroke-width="0.95"/>
<rect x="348.1" y="684.99" width="18.2" height="77.3" fill="#000000" stroke="#151515" stroke-width="0.95"/>
<rect x="385.16" y="709.17" width="18.2" height="53.13" fill="#f0c330" stroke="#151515" stroke-width="0.95"/>
<line x1="282.96" y1="679.96" x2="282.96" y2="697.04" stroke="#5e5e5e" stroke-width="0.9"/>
<line x1="280.66" y1="679.96" x2="285.26" y2="679.96" stroke="#5e5e5e" stroke-width="1"/>
<line x1="280.66" y1="697.04" x2="285.26" y2="697.04" stroke="#5e5e5e" stroke-width="1"/>
<line x1="320.01" y1="637.91" x2="320.01" y2="656.3" stroke="#5e5e5e" stroke-width="0.9"/>
<line x1="317.71" y1="637.91" x2="322.31" y2="637.91" stroke="#5e5e5e" stroke-width="1"/>
<line x1="317.71" y1="656.3" x2="322.31" y2="656.3" stroke="#5e5e5e" stroke-width="1"/>
<line x1="357.2" y1="673.39" x2="357.2" y2="697.04" stroke="#5e5e5e" stroke-width="0.9"/>
<line x1="354.9" y1="673.39" x2="359.5" y2="673.39" stroke="#5e5e5e" stroke-width="1"/>
<line x1="354.9" y1="697.04" x2="359.5" y2="697.04" stroke="#5e5e5e" stroke-width="1"/>
<line x1="394.26" y1="703.61" x2="394.26" y2="714.12" stroke="#5e5e5e" stroke-width="0.9"/>
<line x1="391.96" y1="703.61" x2="396.56" y2="703.61" stroke="#5e5e5e" stroke-width="1"/>
<line x1="391.96" y1="714.12" x2="396.56" y2="714.12" stroke="#5e5e5e" stroke-width="1"/>
<circle cx="282.56" cy="683.37" r="2.85" fill="#7a2fb5" stroke="#64229c" stroke-width="0.6"/>
<circle cx="282.83" cy="683.9" r="2.85" fill="#7a2fb5" stroke="#64229c" stroke-width="0.6"/>
<circle cx="282.83" cy="698.35" r="2.85" fill="#7a2fb5" stroke="#64229c" stroke-width="0.6"/>
<circle cx="319.88" cy="637.91" r="2.85" fill="#7a2fb5" stroke="#64229c" stroke-width="0.6"/>
<circle cx="319.88" cy="653.15" r="2.85" fill="#7a2fb5" stroke="#64229c" stroke-width="0.6"/>
<circle cx="319.36" cy="653.68" r="2.85" fill="#7a2fb5" stroke="#64229c" stroke-width="0.6"/>
<circle cx="356.94" cy="675.23" r="2.85" fill="#7a2fb5" stroke="#64229c" stroke-width="0.6"/>
<circle cx="356.94" cy="680.48" r="2.85" fill="#7a2fb5" stroke="#64229c" stroke-width="0.6"/>
<circle cx="356.41" cy="698.88" r="2.85" fill="#7a2fb5" stroke="#64229c" stroke-width="0.6"/>
<circle cx="393.73" cy="703.61" r="2.85" fill="#7a2fb5" stroke="#64229c" stroke-width="0.6"/>
<circle cx="393.21" cy="709.66" r="2.85" fill="#7a2fb5" stroke="#64229c" stroke-width="0.6"/>
<circle cx="393.99" cy="713.86" r="2.85" fill="#7a2fb5" stroke="#64229c" stroke-width="0.6"/>
<line x1="264.59" y1="616.93" x2="264.59" y2="763.17" stroke="#0a0a0a" stroke-width="1.75"/>
<line x1="263.71" y1="762.29" x2="412.65" y2="762.29" stroke="#0a0a0a" stroke-width="1.75"/>
<line x1="260.39" y1="762.29" x2="264.59" y2="762.29" stroke="#0a0a0a" stroke-width="1.3"/>
<line x1="261.79" y1="744.23" x2="264.59" y2="744.23" stroke="#0a0a0a" stroke-width="1.1"/>
<line x1="260.39" y1="726.17" x2="264.59" y2="726.17" stroke="#0a0a0a" stroke-width="1.3"/>
<line x1="261.79" y1="708.11" x2="264.59" y2="708.11" stroke="#0a0a0a" stroke-width="1.1"/>
<line x1="260.39" y1="690.05" x2="264.59" y2="690.05" stroke="#0a0a0a" stroke-width="1.3"/>
<line x1="261.79" y1="671.99" x2="264.59" y2="671.99" stroke="#0a0a0a" stroke-width="1.1"/>
<line x1="260.39" y1="653.93" x2="264.59" y2="653.93" stroke="#0a0a0a" stroke-width="1.3"/>
<line x1="261.79" y1="635.87" x2="264.59" y2="635.87" stroke="#0a0a0a" stroke-width="1.1"/>
<line x1="260.39" y1="617.81" x2="264.59" y2="617.81" stroke="#0a0a0a" stroke-width="1.3"/>
<text x="252.29" y="766.04" font-size="13.4" text-anchor="end" font-weight="normal" font-style="normal" fill="#0a0a0a" stroke="#0a0a0a" stroke-width="0.15">0</text>
<text x="252.29" y="729.92" font-size="13.4" text-anchor="end" font-weight="normal" font-style="normal" fill="#0a0a0a" stroke="#0a0a0a" stroke-width="0.15">0.5</text>
<text x="252.29" y="693.8" font-size="13.4" text-anchor="end" font-weight="normal" font-style="normal" fill="#0a0a0a" stroke="#0a0a0a" stroke-width="0.15">1</text>
<text x="252.29" y="657.68" font-size="13.4" text-anchor="end" font-weight="normal" font-style="normal" fill="#0a0a0a" stroke="#0a0a0a" stroke-width="0.15">1.5</text>
<text x="252.29" y="621.56" font-size="13.4" text-anchor="end" font-weight="normal" font-style="normal" fill="#0a0a0a" stroke="#0a0a0a" stroke-width="0.15">2</text>
<text x="334.34" y="619.45" font-size="15.5" text-anchor="middle" font-weight="bold" font-style="normal" fill="#0a0a0a">SEBP1</text>
<text x="319.36" y="638.47" font-size="21" text-anchor="middle" font-weight="normal" font-style="normal" fill="#0a0a0a" stroke="#0a0a0a" stroke-width="0.3">*</text>
<text x="393.47" y="701.02" font-size="21" text-anchor="middle" font-weight="normal" font-style="normal" fill="#0a0a0a" stroke="#0a0a0a" stroke-width="0.3">*</text>
<text transform="translate(286.96 774.94) rotate(-55) scale(0.9 1)" font-size="14.6" text-anchor="end" font-style="normal" fill="#0a0a0a" stroke="#0a0a0a" stroke-width="0.25">CC849</text>
<text transform="translate(325.21 777.09) rotate(-55) scale(0.9 1)" font-size="14.6" text-anchor="end" font-style="normal" fill="#0a0a0a" stroke="#0a0a0a" stroke-width="0.25">OEPC</text>
<text transform="translate(363.6 775.14) rotate(-55) scale(0.9 1)" font-size="14.6" text-anchor="end" font-style="normal" fill="#0a0a0a" stroke="#0a0a0a" stroke-width="0.25">CC5325</text>
<text transform="translate(399.16 779.94) rotate(-55) scale(0.9 1)" font-size="14.6" text-anchor="end" font-style="italic" fill="#0a0a0a" stroke="#0a0a0a" stroke-width="0.25">pckd</text>
<rect x="465.3" y="688.4" width="18.46" height="73.89" fill="#3c7bc9" stroke="#151515" stroke-width="0.95"/>
<rect x="502.36" y="672.37" width="18.46" height="89.92" fill="#e87a38" stroke="#151515" stroke-width="0.95"/>
<rect x="539.42" y="688.14" width="18.46" height="74.15" fill="#000000" stroke="#151515" stroke-width="0.95"/>
<rect x="576.47" y="725.99" width="18.46" height="36.31" fill="#f0c330" stroke="#151515" stroke-width="0.95"/>
<line x1="474.53" y1="678.64" x2="474.53" y2="697.57" stroke="#5e5e5e" stroke-width="0.9"/>
<line x1="472.23" y1="678.64" x2="476.83" y2="678.64" stroke="#5e5e5e" stroke-width="1"/>
<line x1="472.23" y1="697.57" x2="476.83" y2="697.57" stroke="#5e5e5e" stroke-width="1"/>
<line x1="511.59" y1="667.61" x2="511.59" y2="677.33" stroke="#5e5e5e" stroke-width="0.9"/>
<line x1="509.29" y1="667.61" x2="513.89" y2="667.61" stroke="#5e5e5e" stroke-width="1"/>
<line x1="509.29" y1="677.33" x2="513.89" y2="677.33" stroke="#5e5e5e" stroke-width="1"/>
<line x1="548.65" y1="678.12" x2="548.65" y2="698.35" stroke="#5e5e5e" stroke-width="0.9"/>
<line x1="546.35" y1="678.12" x2="550.95" y2="678.12" stroke="#5e5e5e" stroke-width="1"/>
<line x1="546.35" y1="698.35" x2="550.95" y2="698.35" stroke="#5e5e5e" stroke-width="1"/>
<line x1="585.7" y1="723.32" x2="585.7" y2="728.58" stroke="#5e5e5e" stroke-width="0.9"/>
<line x1="583.4" y1="723.32" x2="588" y2="723.32" stroke="#5e5e5e" stroke-width="1"/>
<line x1="583.4" y1="728.58" x2="588" y2="728.58" stroke="#5e5e5e" stroke-width="1"/>
<circle cx="474.4" cy="682.06" r="2.85" fill="#7a2fb5" stroke="#64229c" stroke-width="0.6"/>
<circle cx="473.35" cy="684.43" r="2.85" fill="#7a2fb5" stroke="#64229c" stroke-width="0.6"/>
<circle cx="474.4" cy="699.14" r="2.85" fill="#7a2fb5" stroke="#64229c" stroke-width="0.6"/>
<circle cx="511.46" cy="668.13" r="2.85" fill="#7a2fb5" stroke="#64229c" stroke-width="0.6"/>
<circle cx="510.41" cy="670.23" r="2.85" fill="#7a2fb5" stroke="#64229c" stroke-width="0.6"/>
<circle cx="511.2" cy="678.12" r="2.85" fill="#7a2fb5" stroke="#64229c" stroke-width="0.6"/>
<circle cx="548.52" cy="681.53" r="2.85" fill="#7a2fb5" stroke="#64229c" stroke-width="0.6"/>
<circle cx="547.46" cy="683.9" r="2.85" fill="#7a2fb5" stroke="#64229c" stroke-width="0.6"/>
<circle cx="548.52" cy="699.93" r="2.85" fill="#7a2fb5" stroke="#64229c" stroke-width="0.6"/>
<circle cx="585.57" cy="723.32" r="2.85" fill="#7a2fb5" stroke="#64229c" stroke-width="0.6"/>
<circle cx="584.52" cy="725.42" r="2.85" fill="#7a2fb5" stroke="#64229c" stroke-width="0.6"/>
<circle cx="585.57" cy="729.37" r="2.85" fill="#7a2fb5" stroke="#64229c" stroke-width="0.6"/>
<line x1="456.17" y1="616.93" x2="456.17" y2="763.17" stroke="#0a0a0a" stroke-width="1.75"/>
<line x1="455.29" y1="762.29" x2="610.01" y2="762.29" stroke="#0a0a0a" stroke-width="1.75"/>
<line x1="451.97" y1="762.29" x2="456.17" y2="762.29" stroke="#0a0a0a" stroke-width="1.3"/>
<line x1="453.37" y1="744.23" x2="456.17" y2="744.23" stroke="#0a0a0a" stroke-width="1.1"/>
<line x1="451.97" y1="726.17" x2="456.17" y2="726.17" stroke="#0a0a0a" stroke-width="1.3"/>
<line x1="453.37" y1="708.11" x2="456.17" y2="708.11" stroke="#0a0a0a" stroke-width="1.1"/>
<line x1="451.97" y1="690.05" x2="456.17" y2="690.05" stroke="#0a0a0a" stroke-width="1.3"/>
<line x1="453.37" y1="671.99" x2="456.17" y2="671.99" stroke="#0a0a0a" stroke-width="1.1"/>
<line x1="451.97" y1="653.93" x2="456.17" y2="653.93" stroke="#0a0a0a" stroke-width="1.3"/>
<line x1="453.37" y1="635.87" x2="456.17" y2="635.87" stroke="#0a0a0a" stroke-width="1.1"/>
<line x1="451.97" y1="617.81" x2="456.17" y2="617.81" stroke="#0a0a0a" stroke-width="1.3"/>
<text x="443.87" y="766.04" font-size="13.4" text-anchor="end" font-weight="normal" font-style="normal" fill="#0a0a0a" stroke="#0a0a0a" stroke-width="0.15">0</text>
<text x="443.87" y="729.92" font-size="13.4" text-anchor="end" font-weight="normal" font-style="normal" fill="#0a0a0a" stroke="#0a0a0a" stroke-width="0.15">0.5</text>
<text x="443.87" y="693.8" font-size="13.4" text-anchor="end" font-weight="normal" font-style="normal" fill="#0a0a0a" stroke="#0a0a0a" stroke-width="0.15">1</text>
<text x="443.87" y="657.68" font-size="13.4" text-anchor="end" font-weight="normal" font-style="normal" fill="#0a0a0a" stroke="#0a0a0a" stroke-width="0.15">1.5</text>
<text x="443.87" y="621.56" font-size="13.4" text-anchor="end" font-weight="normal" font-style="normal" fill="#0a0a0a" stroke="#0a0a0a" stroke-width="0.15">2</text>
<text x="520.66" y="617.61" font-size="15.5" text-anchor="middle" font-weight="bold" font-style="normal" fill="#0a0a0a">PGI1</text>
<text x="585.05" y="715.48" font-size="21" text-anchor="middle" font-weight="normal" font-style="normal" fill="#0a0a0a" stroke="#0a0a0a" stroke-width="0.3">*</text>
<text transform="translate(481.73 774.14) rotate(-55) scale(0.9 1)" font-size="14.6" text-anchor="end" font-style="normal" fill="#0a0a0a" stroke="#0a0a0a" stroke-width="0.25">CC849</text>
<text transform="translate(520.09 776.19) rotate(-55) scale(0.9 1)" font-size="14.6" text-anchor="end" font-style="normal" fill="#0a0a0a" stroke="#0a0a0a" stroke-width="0.25">OEPC</text>
<text transform="translate(557.85 775.74) rotate(-55) scale(0.9 1)" font-size="14.6" text-anchor="end" font-style="normal" fill="#0a0a0a" stroke="#0a0a0a" stroke-width="0.25">CC5325</text>
<text transform="translate(593.2 779.64) rotate(-55) scale(0.9 1)" font-size="14.6" text-anchor="end" font-style="italic" fill="#0a0a0a" stroke="#0a0a0a" stroke-width="0.25">pckd</text>
<rect x="653.73" y="686.3" width="18.46" height="77.04" fill="#3c7bc9" stroke="#151515" stroke-width="0.95"/>
<rect x="690.78" y="715.21" width="18.46" height="48.13" fill="#e87a38" stroke="#151515" stroke-width="0.95"/>
<rect x="728.1" y="690.24" width="18.2" height="73.1" fill="#000000" stroke="#151515" stroke-width="0.95"/>
<rect x="765.16" y="673.42" width="18.2" height="89.92" fill="#f0c330" stroke="#151515" stroke-width="0.95"/>
<line x1="662.96" y1="673.91" x2="662.96" y2="697.04" stroke="#5e5e5e" stroke-width="0.9"/>
<line x1="660.66" y1="673.91" x2="665.26" y2="673.91" stroke="#5e5e5e" stroke-width="1"/>
<line x1="660.66" y1="697.04" x2="665.26" y2="697.04" stroke="#5e5e5e" stroke-width="1"/>
<line x1="700.01" y1="711.23" x2="700.01" y2="718.59" stroke="#5e5e5e" stroke-width="0.9"/>
<line x1="697.71" y1="711.23" x2="702.31" y2="711.23" stroke="#5e5e5e" stroke-width="1"/>
<line x1="697.71" y1="718.59" x2="702.31" y2="718.59" stroke="#5e5e5e" stroke-width="1"/>
<line x1="737.2" y1="683.37" x2="737.2" y2="697.04" stroke="#5e5e5e" stroke-width="0.9"/>
<line x1="734.9" y1="683.37" x2="739.5" y2="683.37" stroke="#5e5e5e" stroke-width="1"/>
<line x1="734.9" y1="697.04" x2="739.5" y2="697.04" stroke="#5e5e5e" stroke-width="1"/>
<line x1="774.26" y1="668.13" x2="774.26" y2="678.12" stroke="#5e5e5e" stroke-width="0.9"/>
<line x1="771.96" y1="668.13" x2="776.56" y2="668.13" stroke="#5e5e5e" stroke-width="1"/>
<line x1="771.96" y1="678.12" x2="776.56" y2="678.12" stroke="#5e5e5e" stroke-width="1"/>
<circle cx="663.09" cy="673.91" r="2.85" fill="#7a2fb5" stroke="#64229c" stroke-width="0.6"/>
<circle cx="663.09" cy="690.47" r="2.85" fill="#7a2fb5" stroke="#64229c" stroke-width="0.6"/>
<circle cx="663.09" cy="693.62" r="2.85" fill="#7a2fb5" stroke="#64229c" stroke-width="0.6"/>
<circle cx="699.88" cy="711.23" r="2.85" fill="#7a2fb5" stroke="#64229c" stroke-width="0.6"/>
<circle cx="699.88" cy="714.91" r="2.85" fill="#7a2fb5" stroke="#64229c" stroke-width="0.6"/>
<circle cx="699.88" cy="718.85" r="2.85" fill="#7a2fb5" stroke="#64229c" stroke-width="0.6"/>
<circle cx="736.94" cy="683.37" r="2.85" fill="#7a2fb5" stroke="#64229c" stroke-width="0.6"/>
<circle cx="736.94" cy="690.47" r="2.85" fill="#7a2fb5" stroke="#64229c" stroke-width="0.6"/>
<circle cx="736.94" cy="697.57" r="2.85" fill="#7a2fb5" stroke="#64229c" stroke-width="0.6"/>
<circle cx="773.99" cy="668.13" r="2.85" fill="#7a2fb5" stroke="#64229c" stroke-width="0.6"/>
<circle cx="773.99" cy="673.91" r="2.85" fill="#7a2fb5" stroke="#64229c" stroke-width="0.6"/>
<circle cx="773.99" cy="677.59" r="2.85" fill="#7a2fb5" stroke="#64229c" stroke-width="0.6"/>
<line x1="644.59" y1="617.72" x2="644.59" y2="764.22" stroke="#0a0a0a" stroke-width="1.75"/>
<line x1="643.71" y1="763.34" x2="792.65" y2="763.34" stroke="#0a0a0a" stroke-width="1.75"/>
<line x1="640.39" y1="763.34" x2="644.59" y2="763.34" stroke="#0a0a0a" stroke-width="1.3"/>
<line x1="641.79" y1="745.25" x2="644.59" y2="745.25" stroke="#0a0a0a" stroke-width="1.1"/>
<line x1="640.39" y1="727.16" x2="644.59" y2="727.16" stroke="#0a0a0a" stroke-width="1.3"/>
<line x1="641.79" y1="709.06" x2="644.59" y2="709.06" stroke="#0a0a0a" stroke-width="1.1"/>
<line x1="640.39" y1="690.97" x2="644.59" y2="690.97" stroke="#0a0a0a" stroke-width="1.3"/>
<line x1="641.79" y1="672.88" x2="644.59" y2="672.88" stroke="#0a0a0a" stroke-width="1.1"/>
<line x1="640.39" y1="654.78" x2="644.59" y2="654.78" stroke="#0a0a0a" stroke-width="1.3"/>
<line x1="641.79" y1="636.69" x2="644.59" y2="636.69" stroke="#0a0a0a" stroke-width="1.1"/>
<line x1="640.39" y1="618.6" x2="644.59" y2="618.6" stroke="#0a0a0a" stroke-width="1.3"/>
<text x="632.29" y="767.1" font-size="13.4" text-anchor="end" font-weight="normal" font-style="normal" fill="#0a0a0a" stroke="#0a0a0a" stroke-width="0.15">0</text>
<text x="632.29" y="730.91" font-size="13.4" text-anchor="end" font-weight="normal" font-style="normal" fill="#0a0a0a" stroke="#0a0a0a" stroke-width="0.15">0.5</text>
<text x="632.29" y="694.72" font-size="13.4" text-anchor="end" font-weight="normal" font-style="normal" fill="#0a0a0a" stroke="#0a0a0a" stroke-width="0.15">1</text>
<text x="632.29" y="658.54" font-size="13.4" text-anchor="end" font-weight="normal" font-style="normal" fill="#0a0a0a" stroke="#0a0a0a" stroke-width="0.15">1.5</text>
<text x="632.29" y="622.35" font-size="13.4" text-anchor="end" font-weight="normal" font-style="normal" fill="#0a0a0a" stroke="#0a0a0a" stroke-width="0.15">2</text>
<text x="713.29" y="619.45" font-size="15.5" text-anchor="middle" font-weight="bold" font-style="normal" fill="#0a0a0a">PGM1</text>
<text x="699.36" y="704.97" font-size="21" text-anchor="middle" font-weight="normal" font-style="normal" fill="#0a0a0a" stroke="#0a0a0a" stroke-width="0.3">*</text>
<text x="773.47" y="662.92" font-size="21" text-anchor="middle" font-weight="normal" font-style="normal" fill="#0a0a0a" stroke="#0a0a0a" stroke-width="0.3">*</text>
<text transform="translate(669.96 774.69) rotate(-55) scale(0.9 1)" font-size="14.6" text-anchor="end" font-style="normal" fill="#0a0a0a" stroke="#0a0a0a" stroke-width="0.25">CC849</text>
<text transform="translate(708.46 777.24) rotate(-55) scale(0.9 1)" font-size="14.6" text-anchor="end" font-style="normal" fill="#0a0a0a" stroke="#0a0a0a" stroke-width="0.25">OEPC</text>
<text transform="translate(746.5 775.89) rotate(-55) scale(0.9 1)" font-size="14.6" text-anchor="end" font-style="normal" fill="#0a0a0a" stroke="#0a0a0a" stroke-width="0.25">CC5325</text>
<text transform="translate(781.91 780.39) rotate(-55) scale(0.9 1)" font-size="14.6" text-anchor="end" font-style="italic" fill="#0a0a0a" stroke="#0a0a0a" stroke-width="0.25">pckd</text>
</svg>
</body></html>
